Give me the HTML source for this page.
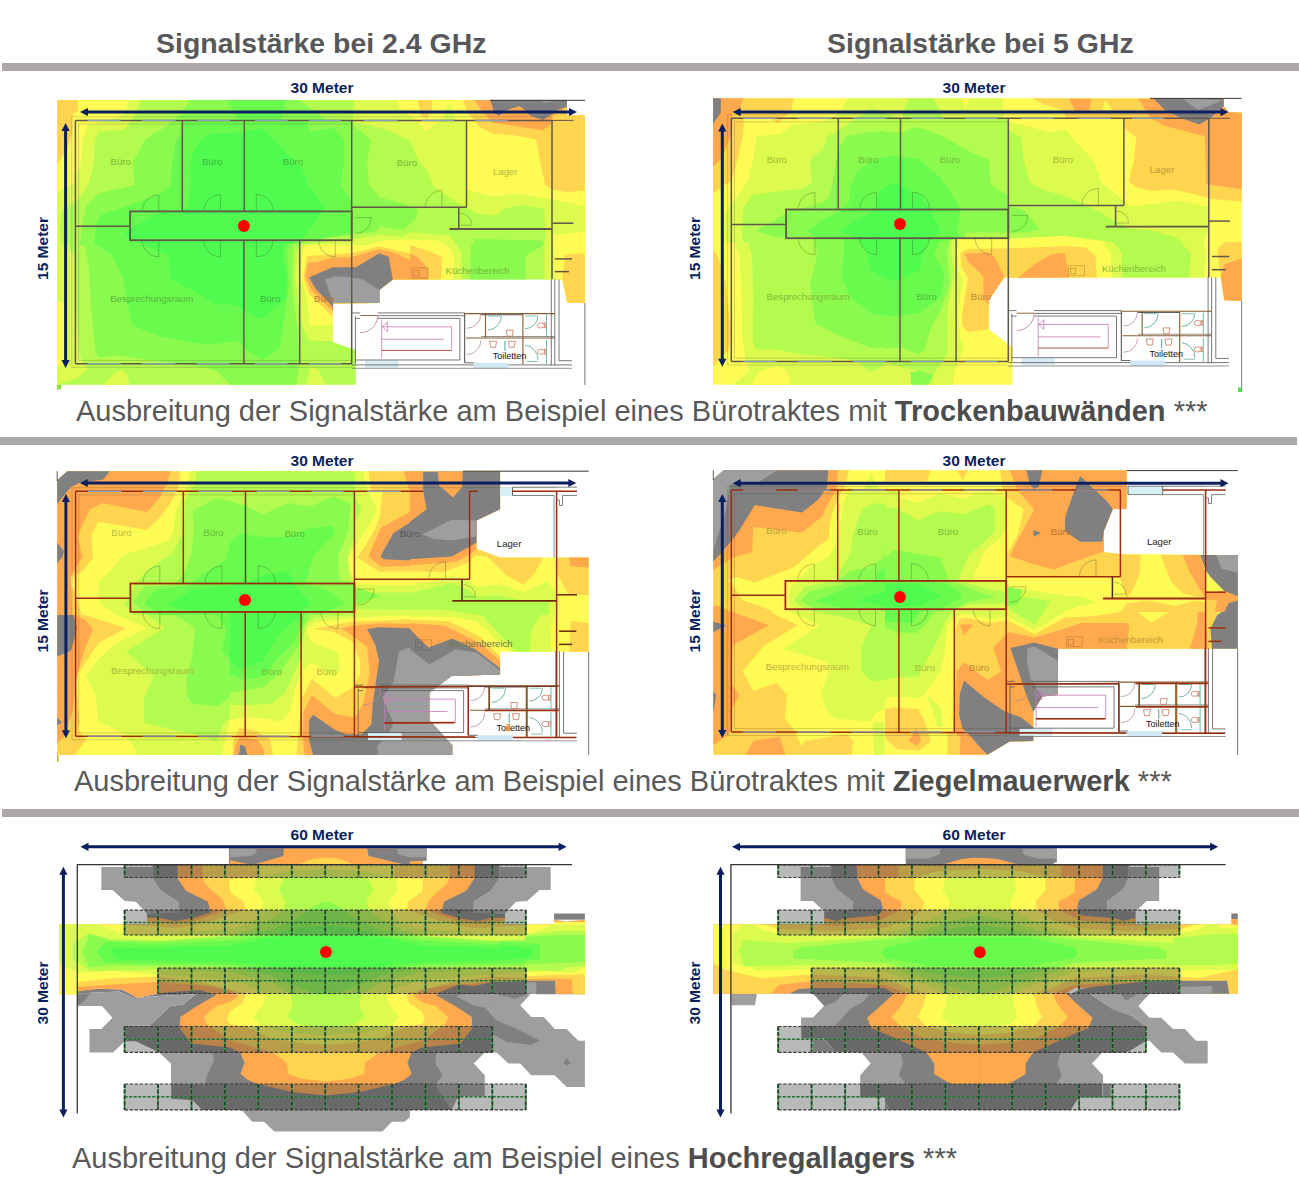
<!DOCTYPE html>
<html><head><meta charset="utf-8"><title>Signalstaerke</title>
<style>
html,body{margin:0;padding:0;background:#fff;}
body{width:1299px;height:1193px;position:relative;overflow:hidden;font-family:"Liberation Sans",sans-serif;}
.bar{position:absolute;height:8px;background:#ada9a9;}
.h{position:absolute;top:25.8px;font-size:28px;font-weight:bold;color:#58585a;white-space:nowrap;line-height:36px;transform-origin:0 0;transform:scaleX(1.016);}
.cap{position:absolute;font-size:29px;color:#595959;white-space:nowrap;line-height:34px;}
.cap b{color:#4d4d4d}
svg{position:absolute;left:0;top:0;}
svg text{font-family:"Liberation Sans",sans-serif;}
</style></head><body>
<div class="h" style="left:156px">Signalstärke bei 2.4 GHz</div>
<div class="h" style="left:827px">Signalstärke bei 5 GHz</div>
<div class="bar" style="left:2px;top:63px;width:1297px"></div>
<div class="bar" style="left:0;top:437px;width:1297px"></div>
<div class="bar" style="left:2px;top:809px;width:1297px"></div>
<div class="cap" style="left:76px;top:394px">Ausbreitung der Signalstärke am Beispiel eines Bürotraktes mit <b>Trockenbauwänden</b> ***</div>
<div class="cap" style="left:74px;top:764px">Ausbreitung der Signalstärke am Beispiel eines Bürotraktes mit <b>Ziegelmauerwerk</b> ***</div>
<div class="cap" style="left:72px;top:1141px">Ausbreitung der Signalstärke am Beispiel eines <b>Hochregallagers</b> ***</div>
<svg width="1299" height="1193" viewBox="0 0 1299 1193">
<polygon fill="#b3fb4e" points="57.2,100 567,100 567,115 585,115 585,303 567.3,303 562.4,279.5 392.8,279.5 379.4,290 379.4,303 332.8,303.5 332.8,342 355.8,350.3 355.8,384.7 57.2,384.7" />
<polygon fill="#dcfb4e" points="57.2,100.1 140.1,100.1 138.7,108.9 124.8,129.6 98.5,131.7 95.0,140.7 94.3,161.5 88.8,183.7 77.7,200.3 61.8,210.0 60.4,226.6 61.1,244.9 68.0,245.0 74.2,256.1 75.6,300.4 79.8,355.8 86.7,369.7 77.7,378.0 61.1,383.6 57.2,384.7" />
<polygon fill="#fffb55" points="57.2,100.1 128.3,100.1 126.9,110.2 119.3,117.2 88.1,124.8 83.3,136.6 81.2,161.5 72.9,183.7 57.2,192.0" />
<polygon fill="#fffb55" points="57.2,300.4 63.9,303.2 65.0,362.8 57.2,366.9" />
<polygon fill="#ffd44e" points="57.2,100.1 77.7,100.1 77.7,112.3 72.9,113.0 72.2,133.8 66.6,150.4 57.2,164.3" />
<polygon fill="#dcfb4e" points="354.7,100.1 352.6,122.0 368.6,124.8 389.3,131.0 410.0,140.7 418.3,160.1 428.0,172.6 433.6,186.5 455.7,201.7 466.1,207.0 476.5,213.5 495.9,215.5 505.6,208.6 520.8,205.2 544.4,208.6 545.1,228.7 545.1,244.9 544.4,245.0 544.4,279.4 562.4,279.6 567.3,302.9 584.9,302.9 584.9,115.1 567.0,115.1 567.0,100.1" />
<polygon fill="#fffb55" points="396.3,100.1 400.4,108.9 410.0,115.8 416.9,121.0 426.6,131.0 437.7,121.0 466.1,121.0 467.1,189.2 493.1,196.2 520.8,194.1 543.0,197.5 552.7,199.6 584.9,205.8 584.9,115.1 567.0,115.1 567.0,100.1" />
<polygon fill="#dcfb4e" points="441.9,119.9 449.5,101.9 455.7,119.9" />
<polygon fill="#fffb55" points="553.4,244.9 554.1,234.9 568.0,233.6 584.9,230.8 584.9,302.9 567.3,302.9 562.4,279.6 554.8,279.6 554.1,245.0" />
<polygon fill="#ffd44e" points="462.7,100.1 468.2,113.0 479.3,126.9 493.1,133.8 513.9,135.2 536.1,139.3 540.2,161.5 545.1,185.1 552.7,189.2 566.6,192.0 584.9,190.6 584.9,115.1 567.0,115.1 567.0,100.1" />
<polygon fill="#ffd44e" points="417.6,100.1 432.2,100.1 432.2,108.9 426.6,118.6 421.1,115.8" />
<polygon fill="#ffd44e" points="565.2,254.7 584.9,253.3 584.9,302.9 567.3,302.9 562.4,279.6" />
<polygon fill="#ffa84e" points="475.1,100.1 482.1,111.6 493.1,122.7 507.0,124.8 543.0,130.3 552.7,122.7 552.7,115.8 567.0,107.5 567.0,100.1" />
<polygon fill="#808080" points="490.4,100.5 494.5,113.0 498.7,115.8 507.0,110.2 519.5,106.1 525.0,110.2 530.5,115.8 543.0,119.9 549.9,115.8 556.9,110.2 567.0,106.8 567.0,100.5" />
<polygon fill="#9e9e9e" points="540.2,100.5 544.4,102.6 549.9,101.9 552.7,100.5" />
<polygon fill="#dcfb4e" points="102.7,384.7 113.7,373.9 122.1,369.7 127.6,375.2 129.7,384.7" />
<polygon fill="#dcfb4e" points="234.2,384.7 238.3,372.5 242.5,384.7" />
<polygon fill="#dcfb4e" points="306.2,384.7 310.4,366.9 318.7,369.7 325.6,384.7" />
<polygon fill="#8afb4e" points="189.9,100.1 180.2,114.4 165.0,126.9 145.6,139.3 133.1,161.5 134.5,185.1 98.5,193.4 86.0,205.8 81.9,226.6 79.8,244.9 84.6,245.0 88.8,265.8 91.6,314.3 95.7,353.1 98.5,357.2 119.3,355.8 202.4,366.9 216.3,370.4 230.0,384.7 296.5,384.7 299.3,363.7 297.9,335.1 292.4,286.6 293.0,245.0 313.1,239.8 351.7,234.9 352.6,233.6 375.5,232.2 381.0,226.6 403.2,230.1 410.0,223.9 415.5,219.7 418.3,210.0 410.0,205.8 396.3,201.7 379.6,197.5 368.6,183.7 367.2,161.5 370.6,139.3 352.6,124.8 352.6,120.6 327.0,120.6 299.3,100.1" />
<polygon fill="#8afb4e" points="472.4,244.9 475.1,239.1 543.0,240.5 543.7,244.9 525.7,256.1 525.7,279.4 470.3,279.4 471.0,245.0" />
<polygon fill="#68fb4e" points="94.3,244.9 95.7,226.6 99.9,215.5 127.6,205.8 158.1,194.8 170.5,186.5 171.9,164.3 176.1,139.3 183.0,132.4 183.0,120.6 307.6,120.6 309.7,132.4 332.5,127.6 344.3,139.3 344.3,161.5 340.2,185.1 351.2,198.9 351.7,233.6 313.1,239.8 286.8,245.0 288.9,286.6 282.7,328.1 279.2,348.9 262.6,360.0 243.9,347.5 238.3,340.6 230.0,342.0 209.3,344.8 188.6,342.0 160.8,336.5 131.8,325.4 123.4,278.3 112.4,256.1 97.1,245.0" />
<polygon fill="#50fb50" points="230.0,133.1 214.9,133.1 202.4,138.0 192.7,153.2 189.9,167.1 191.3,183.7 187.2,205.8 183.0,211.4 158.1,212.8 147.0,219.7 130.4,228.0 124.8,232.9 130.4,239.8 145.6,245.0 169.2,256.1 170.5,278.3 195.5,292.1 216.3,304.6 230.0,304.6 238.3,305.3 243.9,310.1 246.6,311.5 262.6,319.1 286.1,297.7 286.8,272.7 282.7,256.1 284.0,245.0 302.1,239.8 321.5,212.1 325.6,210.0 307.6,183.7 302.1,168.4 285.4,151.8 262.6,128.3 245.0,132.4" />
<polygon fill="#68fb4e" points="228,100 286,100 281,120.4 238,120.4" />
<polygon fill="#dcfb4e" points="332.8,341.3 309.0,340.6 302.1,325.4 295.1,279.6 296.5,253.3 299.3,245.0 352.6,239.1 379.6,234.9 403.2,236.3 410.0,232.2 423.9,233.6 448.8,234.9 457.1,244.9 461.3,251.9 462.0,279.4 392.8,279.6 379.4,290.0 379.4,302.9 332.8,303.5" />
<polygon fill="#fffb55" points="332.8,324.7 309.7,324.7 307.6,300.4 300.7,276.9 302.1,253.3 304.8,245.0 368.6,244.9 382.4,240.5 410.0,239.8 410.0,239.8 437.7,240.5 446.0,244.9 451.6,250.5 454.3,257.5 454.3,279.4 392.8,279.6 379.4,290.0 379.4,302.9 332.8,303.5" />
<polygon fill="#ffd44e" points="332.8,317.1 309.0,293.5 303.4,276.9 306.9,256.1 350.5,253.3 379.6,246.4 410.0,253.3 410.0,245.0 430.8,251.9 442.1,256.9 440.8,279.4 392.8,279.6 379.4,290.0 379.4,302.9 332.8,303.5" />
<polygon fill="#ffa84e" points="332.8,311.5 311.8,290.7 305.5,276.9 307.6,263.0 320.1,261.6 332.5,257.5 350.5,257.5 368.6,251.9 379.6,249.2 396.3,253.3 410.0,260.2 410.0,253.3 418.3,257.5 428.0,268.6 428.0,279.4 392.8,279.6 379.4,290.0 379.4,302.9 332.8,303.5" />
<polygon fill="#808080" points="309.0,277.6 332.5,267.2 356.1,267.2 379.0,253.3 388.7,256.8 392.8,279.6 379.4,290.0 379.4,302.9 333.2,302.9 333.2,307.4 327.0,300.4 315.9,289.3" />
<polygon fill="#9e9e9e" points="324.9,279.6 335.3,276.2 351.9,277.6 363.0,279.6 379.4,290.0 379.4,302.9 333.2,302.9" />
<line x1="490.0" y1="100.3" x2="585.0" y2="100.3" stroke="#222" stroke-width="0.90"/>
<line x1="584.9" y1="303.0" x2="584.9" y2="385.0" stroke="#555" stroke-width="0.80"/>
<rect x="473.7" y="362.8" width="34.7" height="5.8" fill="#cfe8f3"/>
<rect x="365.1" y="360.5" width="33.3" height="7.1" fill="#d6ecf5"/>
<line x1="352.0" y1="312.9" x2="360.2" y2="312.9" stroke="#555" stroke-width="0.80"/>
<line x1="377.6" y1="312.9" x2="464.7" y2="312.9" stroke="#555" stroke-width="0.80"/>
<line x1="377.6" y1="315.7" x2="464.7" y2="315.7" stroke="#555" stroke-width="0.80"/>
<line x1="360.2" y1="315.5" x2="377.6" y2="315.5" stroke="#8a5a2a" stroke-width="0.90"/>
<line x1="464.7" y1="312.9" x2="464.7" y2="362.8" stroke="#444" stroke-width="1.00"/>
<line x1="355.4" y1="318.4" x2="360.2" y2="318.4" stroke="#555" stroke-width="0.80"/>
<line x1="377.6" y1="318.4" x2="459.9" y2="318.4" stroke="#555" stroke-width="0.80"/>
<line x1="459.9" y1="318.4" x2="459.9" y2="360.0" stroke="#555" stroke-width="0.80"/>
<line x1="355.4" y1="360.0" x2="459.9" y2="360.0" stroke="#555" stroke-width="0.80"/>
<line x1="355.4" y1="316.0" x2="355.4" y2="363.7" stroke="#555" stroke-width="0.80"/>
<line x1="381.7" y1="319.8" x2="381.7" y2="358.6" stroke="#c77ab8" stroke-width="0.80"/>
<line x1="381.7" y1="326.8" x2="451.6" y2="326.8" stroke="#c77ab8" stroke-width="0.80"/>
<line x1="451.6" y1="326.8" x2="451.6" y2="350.3" stroke="#c77ab8" stroke-width="0.80"/>
<line x1="381.7" y1="339.2" x2="443.9" y2="339.2" stroke="#c77ab8" stroke-width="0.80"/>
<line x1="381.7" y1="350.4" x2="451.6" y2="350.4" stroke="#b0503a" stroke-width="1.00"/>
<polygon points="387.3,321.9 387.3,331.6 382.4,326.8" fill="none" stroke="#c77ab8" stroke-width="0.8"/>
<path d="M377.6 315.7 A17.0 17.0 0 0 1 360.2 332.7" fill="none" stroke="#b08090" stroke-width="0.80"/>
<line x1="464.7" y1="313.6" x2="554.8" y2="313.6" stroke="#8a5a2a" stroke-width="1.10"/>
<line x1="466.0" y1="338.0" x2="554.8" y2="338.0" stroke="#8a5a2a" stroke-width="1.10"/>
<line x1="485.5" y1="313.6" x2="485.5" y2="338.0" stroke="#8a5a2a" stroke-width="1.10"/>
<line x1="522.9" y1="313.6" x2="522.9" y2="364.2" stroke="#8a5a2a" stroke-width="1.10"/>
<line x1="481.0" y1="314.8" x2="522.9" y2="314.8" stroke="#333" stroke-width="0.80"/>
<line x1="481.0" y1="336.5" x2="554.8" y2="336.5" stroke="#666" stroke-width="0.70"/>
<line x1="551.3" y1="279.4" x2="551.3" y2="365.5" stroke="#555" stroke-width="0.80"/>
<line x1="554.8" y1="279.4" x2="554.8" y2="365.5" stroke="#555" stroke-width="0.80"/>
<line x1="559.0" y1="279.6" x2="559.0" y2="360.7" stroke="#555" stroke-width="0.80"/>
<line x1="559.0" y1="360.7" x2="572.1" y2="360.7" stroke="#555" stroke-width="0.80"/>
<line x1="352.0" y1="364.9" x2="473.7" y2="364.9" stroke="#555" stroke-width="0.80"/>
<line x1="508.4" y1="364.9" x2="572.1" y2="364.9" stroke="#555" stroke-width="0.80"/>
<line x1="352.0" y1="368.3" x2="572.1" y2="368.3" stroke="#777" stroke-width="0.80"/>
<line x1="464.7" y1="362.8" x2="473.7" y2="362.8" stroke="#444" stroke-width="0.80"/>
<path d="M501.5 315.7 A14.5 14.5 0 0 1 487.6 330.2" fill="none" stroke="#4aa39a" stroke-width="0.80"/>
<path d="M538.0 315.7 A13.0 13.0 0 0 1 525.0 328.7" fill="none" stroke="#4aa39a" stroke-width="0.80"/>
<path d="M525.0 345.0 A15.0 15.0 0 0 1 538.0 360.0" fill="none" stroke="#4aa39a" stroke-width="0.80"/>
<path d="M480.8 314.3 A14.0 14.0 0 0 1 466.8 328.3" fill="none" stroke="#b88aa0" stroke-width="0.80"/>
<path d="M480.8 340.6 A14.0 14.0 0 0 1 466.8 354.6" fill="none" stroke="#b88aa0" stroke-width="0.80"/>
<line x1="546.5" y1="315.0" x2="546.5" y2="337.0" stroke="#4aa39a" stroke-width="0.80"/>
<line x1="546.5" y1="340.0" x2="546.5" y2="364.0" stroke="#4aa39a" stroke-width="0.80"/>
<line x1="505.0" y1="341.0" x2="505.0" y2="351.0" stroke="#4aa39a" stroke-width="1.00"/>
<line x1="527.0" y1="361.5" x2="538.0" y2="361.5" stroke="#4aa39a" stroke-width="0.70"/>
<line x1="487.6" y1="316.0" x2="500.0" y2="316.0" stroke="#4aa39a" stroke-width="0.70"/>
<line x1="525.0" y1="316.0" x2="537.0" y2="316.0" stroke="#4aa39a" stroke-width="0.70"/>
<ellipse cx="540.9" cy="325.4" rx="3.6" ry="2.6" fill="none" stroke="#c9785a" stroke-width="0.8"/>
<rect x="544.3" y="322.9" width="1.6" height="5" fill="none" stroke="#c9785a" stroke-width="0.6"/>
<ellipse cx="540.9" cy="351.7" rx="3.6" ry="2.6" fill="none" stroke="#c9785a" stroke-width="0.8"/>
<rect x="544.3" y="349.2" width="1.6" height="5" fill="none" stroke="#c9785a" stroke-width="0.6"/>
<path d="M506.3 330.2 h7 l-1 6 h-5 z" fill="none" stroke="#c9785a" stroke-width="0.8"/>
<path d="M489.6 341.3 h7 l-1 6 h-5 z" fill="none" stroke="#c9785a" stroke-width="0.8"/>
<path d="M508.3 341.3 h7 l-1 6 h-5 z" fill="none" stroke="#c9785a" stroke-width="0.8"/>
<rect x="412.0" y="268.0" width="16.0" height="10.0" fill="none" stroke="rgba(80,60,30,0.35)" stroke-width="0.7"/>
<rect x="414.0" y="270.5" width="5" height="5.5" fill="none" stroke="rgba(80,60,30,0.4)" stroke-width="0.7"/>
<path d="M158.8 211.4 L158.8 194.8 A16.6 16.6 0 0 0 142.2 211.4" fill="none" stroke="rgba(40,70,30,0.38)" stroke-width="0.8"/>
<path d="M220.4 211.4 L220.4 194.8 A16.6 16.6 0 0 0 203.8 211.4" fill="none" stroke="rgba(40,70,30,0.38)" stroke-width="0.8"/>
<path d="M256.3 211.4 L256.3 194.4 A17.0 17.0 0 0 1 273.3 211.4" fill="none" stroke="rgba(40,70,30,0.38)" stroke-width="0.8"/>
<path d="M158.8 240.2 L158.8 256.8 A16.6 16.6 0 0 1 142.2 240.2" fill="none" stroke="rgba(40,70,30,0.38)" stroke-width="0.8"/>
<path d="M220.4 240.2 L220.4 256.8 A16.6 16.6 0 0 1 203.8 240.2" fill="none" stroke="rgba(40,70,30,0.38)" stroke-width="0.8"/>
<path d="M256.3 240.2 L256.3 256.8 A16.6 16.6 0 0 0 272.9 240.2" fill="none" stroke="rgba(40,70,30,0.38)" stroke-width="0.8"/>
<path d="M335.3 240.2 L335.3 256.8 A16.6 16.6 0 0 1 318.7 240.2" fill="none" stroke="rgba(40,70,30,0.38)" stroke-width="0.8"/>
<path d="M441.9 207.2 L441.9 190.6 A16.6 16.6 0 0 0 425.3 207.2" fill="none" stroke="rgba(40,70,30,0.38)" stroke-width="0.8"/>
<path d="M355.4 217.6 L371.4 217.6 A16.0 16.0 0 0 1 355.4 233.6" fill="none" stroke="rgba(40,70,30,0.38)" stroke-width="0.8"/>
<path d="M459.9 213.2 A12.0 12.0 0 0 1 471.9 225.2 L459.9 225.2" fill="none" stroke="rgba(40,70,30,0.38)" stroke-width="0.8"/>
<line x1="71.8" y1="116.8" x2="552.0" y2="116.8" stroke="rgba(60,60,30,0.30)" stroke-width="0.7"/>
<line x1="71.8" y1="116.8" x2="71.8" y2="367.3" stroke="rgba(60,60,30,0.30)" stroke-width="0.7"/>
<line x1="78.6" y1="124.0" x2="78.6" y2="360.4" stroke="rgba(60,60,30,0.30)" stroke-width="0.7"/>
<line x1="78.6" y1="124.0" x2="351.0" y2="124.0" stroke="rgba(60,60,30,0.30)" stroke-width="0.7"/>
<line x1="71.8" y1="367.3" x2="352.0" y2="367.3" stroke="rgba(60,60,30,0.30)" stroke-width="0.7"/>
<line x1="78.6" y1="360.4" x2="351.0" y2="360.4" stroke="rgba(60,60,30,0.30)" stroke-width="0.7"/>
<line x1="75.4" y1="120.4" x2="552.0" y2="120.4" stroke="#62554b" stroke-width="1.50"/>
<line x1="552.0" y1="120.4" x2="573.5" y2="120.4" stroke="#62554b" stroke-width="1.00"/>
<line x1="75.4" y1="120.4" x2="75.4" y2="363.7" stroke="#62554b" stroke-width="1.50"/>
<line x1="75.4" y1="363.7" x2="352.0" y2="363.7" stroke="#62554b" stroke-width="1.50"/>
<line x1="182.3" y1="120.4" x2="182.3" y2="211.4" stroke="#62554b" stroke-width="1.50"/>
<line x1="244.3" y1="120.4" x2="244.3" y2="211.4" stroke="#62554b" stroke-width="1.50"/>
<line x1="351.7" y1="120.4" x2="351.7" y2="363.7" stroke="#62554b" stroke-width="1.50"/>
<rect x="130.1" y="211.4" width="221.6" height="28.8" fill="none" stroke="#62554b" stroke-width="1.8"/>
<line x1="75.4" y1="226.3" x2="130.0" y2="226.3" stroke="#62554b" stroke-width="1.50"/>
<line x1="243.9" y1="240.2" x2="243.9" y2="363.7" stroke="#62554b" stroke-width="1.50"/>
<line x1="299.7" y1="240.2" x2="299.7" y2="363.7" stroke="#62554b" stroke-width="1.50"/>
<line x1="351.7" y1="207.2" x2="466.5" y2="207.2" stroke="#62554b" stroke-width="1.50"/>
<line x1="466.5" y1="120.4" x2="466.5" y2="207.2" stroke="#62554b" stroke-width="1.50"/>
<line x1="552.0" y1="120.4" x2="552.0" y2="279.0" stroke="#62554b" stroke-width="1.50"/>
<line x1="458.8" y1="207.2" x2="458.8" y2="229.0" stroke="#62554b" stroke-width="1.50"/>
<line x1="449.5" y1="229.0" x2="552.0" y2="229.0" stroke="#62554b" stroke-width="1.80"/>
<line x1="552.7" y1="223.2" x2="573.5" y2="223.2" stroke="#62554b" stroke-width="1.50"/>
<line x1="554.8" y1="258.9" x2="572.0" y2="258.9" stroke="#62554b" stroke-width="1.50"/>
<line x1="554.8" y1="271.6" x2="569.0" y2="271.6" stroke="#62554b" stroke-width="1.50"/>
<line x1="87.4" y1="120.4" x2="120.7" y2="120.4" stroke="#86a3b8" stroke-width="1.2"/>
<line x1="142.1" y1="120.4" x2="175.4" y2="120.4" stroke="#86a3b8" stroke-width="1.2"/>
<line x1="196.9" y1="120.4" x2="230.2" y2="120.4" stroke="#86a3b8" stroke-width="1.2"/>
<line x1="254.9" y1="120.4" x2="287.5" y2="120.4" stroke="#86a3b8" stroke-width="1.2"/>
<line x1="309.0" y1="120.4" x2="340.9" y2="120.4" stroke="#86a3b8" stroke-width="1.2"/>
<line x1="364.4" y1="120.4" x2="397.7" y2="120.4" stroke="#86a3b8" stroke-width="1.2"/>
<line x1="421.8" y1="120.4" x2="454.3" y2="120.4" stroke="#86a3b8" stroke-width="1.2"/>
<line x1="475.1" y1="120.4" x2="507.7" y2="120.4" stroke="#86a3b8" stroke-width="1.2"/>
<line x1="87.4" y1="363.7" x2="120.7" y2="363.7" stroke="#86a3b8" stroke-width="1.2"/>
<line x1="142.1" y1="363.7" x2="175.4" y2="363.7" stroke="#86a3b8" stroke-width="1.2"/>
<line x1="196.9" y1="363.7" x2="230.2" y2="363.7" stroke="#86a3b8" stroke-width="1.2"/>
<line x1="254.9" y1="363.7" x2="287.5" y2="363.7" stroke="#86a3b8" stroke-width="1.2"/>
<line x1="309.0" y1="363.7" x2="340.9" y2="363.7" stroke="#86a3b8" stroke-width="1.2"/>
<text x="120.7" y="164.7" font-size="9.6" fill="#81b538" text-anchor="middle" font-weight="normal" >Büro</text>
<text x="212.1" y="164.7" font-size="9.6" fill="#3ab53a" text-anchor="middle" font-weight="normal" >Büro</text>
<text x="293.0" y="165.4" font-size="9.6" fill="#42b53a" text-anchor="middle" font-weight="normal" >Büro</text>
<text x="406.9" y="165.6" font-size="9.6" fill="#81b538" text-anchor="middle" font-weight="normal" >Büro</text>
<text x="505.3" y="175.1" font-size="9.6" fill="#b8b53d" text-anchor="middle" font-weight="normal" >Lager</text>
<text x="477.5" y="274.2" font-size="9.6" fill="#78b538" text-anchor="middle" font-weight="normal" >Küchenbereich</text>
<text x="151.8" y="302.0" font-size="9.6" fill="#5ab538" text-anchor="middle" font-weight="normal" >Besprechungsraum</text>
<text x="270.2" y="302.0" font-size="9.6" fill="#3ab53a" text-anchor="middle" font-weight="normal" >Büro</text>
<text x="324.2" y="302.2" font-size="9.6" fill="#b87938" text-anchor="middle" font-weight="normal" >Büro</text>
<text x="509.5" y="359.0" font-size="9.0" fill="#111" text-anchor="middle" font-weight="normal" >Toiletten</text>
<circle cx="243.9" cy="226" r="6" fill="#ff0000"/>
<polygon fill="#fffb55" points="713,98.2 1223.7,98.2 1223.7,105.9 1228.5,112.1 1241.7,112.8 1241.7,300.9 1224.3,300.2 1220.2,277.6 1004.2,277.7 988.9,300.2 988.9,329.3 1012.5,347.3 1012.5,384.7 713,384.7" />
<polygon fill="#dcfb4e" points="849.1,98.2 838.0,114.2 829.7,118.3 822.8,121.8 793.7,124.6 779.8,133.6 756.3,136.3 753.5,158.5 748.0,180.7 732.7,202.8 725.8,211.2 724.4,230.6 725.8,241.9 734.1,242.0 739.6,255.9 741.7,297.4 742.4,339.0 745.2,357.0 749.3,370.9 732.7,384.7 952.9,384.7 954.3,372.2 964.0,347.3 959.8,337.6 958.4,311.3 962.6,280.8 958.4,269.7 957.1,250.3 959.8,242.0 957.1,238.9 1008.0,238.6 1065.0,236.1 1085.8,238.9 1106.6,241.9 1103.8,244.8 1110.7,253.1 1112.1,277.6 1203.6,277.6 1206.3,255.9 1203.6,242.0 1207.7,230.6 1207.7,207.0 1177.2,200.8 1150.9,204.2 1131.5,206.3 1124.6,201.5 1123.2,200.1 1101.0,182.1 1094.1,161.3 1078.9,144.7 1065.0,129.4 1048.5,132.2 1034.6,128.0 1009.0,121.8 1002.8,117.6 1002.8,98.2" />
<polygon fill="#fffb55" points="750.7,384.7 760.4,370.9 777.1,366.0 786.8,370.9 790.9,384.7" />
<polygon fill="#fffb55" points="961.2,98.2 965.4,108.6 969.5,98.2" />
<polygon fill="#b3fb4e" points="871.3,108.6 854.6,119.7 836.6,132.2 826.9,136.3 824.2,147.4 810.3,159.9 811.7,183.5 802.0,189.0 753.5,194.5 743.8,207.0 741.7,230.6 743.1,241.9 748.0,242.0 752.1,255.9 753.5,297.4 752.8,339.0 754.9,348.7 777.1,350.1 802.0,354.2 829.7,357.0 857.4,361.2 871.3,372.2 885.0,363.9 885.0,362.5 933.5,375.0 947.4,352.8 947.4,311.3 954.3,269.7 951.5,255.9 951.5,242.0 951.5,238.6 1008.0,238.3 1065.0,235.8 1078.9,237.5 1113.5,241.9 1113.5,242.0 1121.8,253.1 1121.8,277.6 1189.0,277.6 1191.1,254.5 1181.4,242.0 1175.8,237.5 1150.9,230.6 1131.5,228.5 1116.3,222.2 1099.6,211.2 1092.7,208.4 1081.6,202.8 1065.0,195.9 1040.2,189.0 1029.1,182.1 1023.6,158.5 1020.8,137.0 1009.0,130.8 1009.0,119.0 943.2,118.3 933.5,98.2 908.6,98.2 901.6,118.3 885.0,112.8" />
<polygon fill="#8afb4e" points="911.3,384.7 910.6,372.2 919.6,370.9 933.5,375.0 929.3,384.7" />
<polygon fill="#8afb4e" points="885.0,130.8 868.5,132.2 846.3,136.3 838.0,150.2 835.2,169.6 829.7,195.9 824.2,201.5 807.5,207.0 788.1,211.2 771.5,222.2 756.3,230.6 771.5,236.1 786.1,238.2 814.5,238.9 814.5,242.0 817.2,254.5 810.3,283.6 813.1,311.3 815.8,323.8 836.6,334.8 871.3,348.0 885.0,347.3 885.0,348.7 900.0,347.3 918.3,354.2 925.2,348.7 930.7,327.9 940.4,311.3 950.1,283.6 946.7,253.1 950.1,242.0 950.1,238.2 965.4,238.2 965.4,232.6 1008.0,232.6 1009.0,233.3 1029.1,231.9 1039.5,229.2 1023.6,209.8 1009.0,206.3 1008.0,195.9 990.3,183.5 988.9,159.9 966.8,150.2 943.2,136.3 918.3,127.3 901.4,132.2 885.0,132.2" />
<polygon fill="#68fb4e" points="885.0,156.4 871.3,161.3 857.4,171.0 850.5,186.2 849.1,202.8 838.0,212.5 822.8,219.5 807.5,230.6 815.8,237.5 843.6,238.9 843.6,242.0 843.6,255.9 842.2,278.0 850.5,297.4 872.7,314.1 885.0,315.4 885.0,315.4 893.3,316.1 918.3,313.4 940.4,297.4 944.6,278.0 941.8,266.9 934.2,254.5 939.0,242.0 959.8,238.2 957.1,230.6 959.8,216.7 961.2,209.1 951.5,194.5 940.4,177.9 918.3,158.5 901.4,156.4 885.0,156.4" />
<polygon fill="#50fb50" points="885.0,187.6 876.8,194.5 876.8,209.8 857.4,219.5 840.1,230.6 857.4,238.9 861.6,242.0 867.1,254.5 871.3,269.7 885.0,278.0 885.0,278.0 895.4,281.5 900.0,279.4 919.6,269.7 921.7,255.9 929.3,242.0 933.5,238.2 940.4,230.6 932.8,216.7 929.3,207.0 918.3,193.2 901.4,186.2 895.4,182.8 885.0,187.6" />
<polygon fill="#ffd44e" points="713.0,98.2 793.7,98.2 791.6,110.0 778.4,123.2 770.1,118.3 743.8,119.0 743.1,133.6 738.3,157.1 731.3,180.7 713.0,193.2" />
<polygon fill="#ffa84e" points="713.0,98.2 743.1,98.2 739.6,110.0 732.7,112.1 732.0,130.8 727.2,144.7 721.6,158.5 713.0,166.8" />
<polygon fill="#808080" points="713.0,98.2 720.9,98.2 720.9,112.8 713.0,123.9" />
<polygon fill="#ffd44e" points="713.0,248.9 718.9,258.6 725.8,283.6 730.6,332.1 728.6,350.1 713.0,366.7" />
<polygon fill="#ffd44e" points="1031.9,98.2 1044.3,104.5 1065.0,110.7 1065.0,118.3 1123.9,118.3 1124.6,128.0 1136.4,137.7 1134.3,158.5 1128.7,182.1 1137.1,187.6 1150.9,191.1 1175.8,189.7 1206.3,197.3 1209.1,198.7 1241.7,201.5 1241.7,112.8 1228.5,112.1 1223.7,105.9 1223.7,98.7" />
<polygon fill="#fffb55" points="1105.2,100.3 1102.4,110.0 1112.1,110.0" />
<polygon fill="#ffa84e" points="1138.4,98.7 1150.9,118.3 1164.8,125.9 1184.2,130.8 1204.9,136.3 1206.3,183.5 1209.1,184.8 1241.7,189.0 1241.7,112.8 1228.5,112.1 1223.7,105.9 1223.7,98.7" />
<polygon fill="#ffa84e" points="1069.2,98.7 1091.3,98.7 1088.6,112.8 1083.0,110.0 1076.1,112.8" />
<polygon fill="#808080" points="1153.7,98.7 1223.7,98.7 1223.7,105.9 1211.9,116.9 1199.4,124.6 1181.4,118.3 1164.8,110.0" />
<polygon fill="#9e9e9e" points="1182.8,98.7 1223.0,100.3 1198.0,110.0" />
<polygon fill="#ffd44e" points="1217.4,248.9 1225.7,242.0 1241.7,242.0 1241.7,300.9 1224.3,300.2 1220.9,277.6 1218.8,262.8" />
<polygon fill="#ffa84e" points="1224.3,264.2 1241.7,258.6 1241.7,300.9 1224.3,300.2 1220.9,277.6" />
<polygon fill="#ffd44e" points="988.9,329.3 968.1,332.1 961.9,325.1 962.6,311.3 968.1,278.0 961.2,266.9 960.5,253.1 968.1,248.9 1009.7,248.2 1065.0,246.2 1065.0,246.2 1085.8,247.5 1095.5,255.9 1096.9,277.6 1004.2,277.7 988.9,300.2" />
<polygon fill="#ffa84e" points="964.7,253.8 987.5,252.4 994.5,257.2 1004.2,276.6 988.9,300.2 988.9,304.4 983.4,300.2 983.4,276.6 968.1,261.4" />
<polygon fill="#ffa84e" points="1018.0,277.7 1034.6,264.2 1051.3,254.5 1065.0,253.1 1065.0,253.1 1069.2,277.6" />
<line x1="1150.0" y1="98.4" x2="1241.7" y2="98.4" stroke="#222" stroke-width="0.90"/>
<line x1="1241.7" y1="300.9" x2="1241.7" y2="392.0" stroke="#555" stroke-width="0.80"/>
<rect x="1130.4" y="360.5" width="34.8" height="5.8" fill="#cfe8f3"/>
<rect x="1021.6" y="358.2" width="33.4" height="7.1" fill="#d6ecf5"/>
<line x1="1008.4" y1="310.6" x2="1016.6" y2="310.6" stroke="#555" stroke-width="0.80"/>
<line x1="1034.1" y1="310.6" x2="1121.3" y2="310.6" stroke="#555" stroke-width="0.80"/>
<line x1="1034.1" y1="313.4" x2="1121.3" y2="313.4" stroke="#555" stroke-width="0.80"/>
<line x1="1016.6" y1="313.2" x2="1034.1" y2="313.2" stroke="#8a5a2a" stroke-width="0.90"/>
<line x1="1121.3" y1="310.6" x2="1121.3" y2="360.5" stroke="#444" stroke-width="1.00"/>
<line x1="1011.8" y1="316.1" x2="1016.6" y2="316.1" stroke="#555" stroke-width="0.80"/>
<line x1="1034.1" y1="316.1" x2="1116.5" y2="316.1" stroke="#555" stroke-width="0.80"/>
<line x1="1116.5" y1="316.1" x2="1116.5" y2="357.7" stroke="#555" stroke-width="0.80"/>
<line x1="1011.8" y1="357.7" x2="1116.5" y2="357.7" stroke="#555" stroke-width="0.80"/>
<line x1="1011.8" y1="313.7" x2="1011.8" y2="361.4" stroke="#555" stroke-width="0.80"/>
<line x1="1038.2" y1="317.5" x2="1038.2" y2="356.3" stroke="#c77ab8" stroke-width="0.80"/>
<line x1="1038.2" y1="324.5" x2="1108.2" y2="324.5" stroke="#c77ab8" stroke-width="0.80"/>
<line x1="1108.2" y1="324.5" x2="1108.2" y2="348.0" stroke="#c77ab8" stroke-width="0.80"/>
<line x1="1038.2" y1="336.9" x2="1100.5" y2="336.9" stroke="#c77ab8" stroke-width="0.80"/>
<line x1="1038.2" y1="348.1" x2="1108.2" y2="348.1" stroke="#b0503a" stroke-width="1.00"/>
<polygon points="1043.8,319.6 1043.8,329.3 1038.9,324.5" fill="none" stroke="#c77ab8" stroke-width="0.8"/>
<path d="M1034.1 313.4 A17.0 17.0 0 0 1 1016.6 330.4" fill="none" stroke="#b08090" stroke-width="0.80"/>
<line x1="1121.3" y1="311.3" x2="1211.6" y2="311.3" stroke="#8a5a2a" stroke-width="1.10"/>
<line x1="1122.6" y1="335.7" x2="1211.6" y2="335.7" stroke="#8a5a2a" stroke-width="1.10"/>
<line x1="1142.2" y1="311.3" x2="1142.2" y2="335.7" stroke="#8a5a2a" stroke-width="1.10"/>
<line x1="1179.7" y1="311.3" x2="1179.7" y2="361.9" stroke="#8a5a2a" stroke-width="1.10"/>
<line x1="1137.7" y1="312.5" x2="1179.7" y2="312.5" stroke="#333" stroke-width="0.80"/>
<line x1="1137.7" y1="334.2" x2="1211.6" y2="334.2" stroke="#666" stroke-width="0.70"/>
<line x1="1208.1" y1="277.2" x2="1208.1" y2="363.2" stroke="#555" stroke-width="0.80"/>
<line x1="1211.6" y1="277.2" x2="1211.6" y2="363.2" stroke="#555" stroke-width="0.80"/>
<line x1="1215.8" y1="277.4" x2="1215.8" y2="358.4" stroke="#555" stroke-width="0.80"/>
<line x1="1215.8" y1="358.4" x2="1228.9" y2="358.4" stroke="#555" stroke-width="0.80"/>
<line x1="1008.4" y1="362.6" x2="1130.4" y2="362.6" stroke="#555" stroke-width="0.80"/>
<line x1="1165.1" y1="362.6" x2="1228.9" y2="362.6" stroke="#555" stroke-width="0.80"/>
<line x1="1008.4" y1="366.0" x2="1228.9" y2="366.0" stroke="#777" stroke-width="0.80"/>
<line x1="1121.3" y1="360.5" x2="1130.4" y2="360.5" stroke="#444" stroke-width="0.80"/>
<path d="M1158.2 313.4 A14.5 14.5 0 0 1 1144.3 327.9" fill="none" stroke="#4aa39a" stroke-width="0.80"/>
<path d="M1194.8 313.4 A13.0 13.0 0 0 1 1181.8 326.4" fill="none" stroke="#4aa39a" stroke-width="0.80"/>
<path d="M1181.8 342.7 A15.0 15.0 0 0 1 1194.8 357.7" fill="none" stroke="#4aa39a" stroke-width="0.80"/>
<path d="M1137.5 312.0 A14.0 14.0 0 0 1 1123.4 326.0" fill="none" stroke="#b88aa0" stroke-width="0.80"/>
<path d="M1137.5 338.3 A14.0 14.0 0 0 1 1123.4 352.3" fill="none" stroke="#b88aa0" stroke-width="0.80"/>
<line x1="1203.3" y1="312.7" x2="1203.3" y2="334.7" stroke="#4aa39a" stroke-width="0.80"/>
<line x1="1203.3" y1="337.7" x2="1203.3" y2="361.7" stroke="#4aa39a" stroke-width="0.80"/>
<line x1="1161.7" y1="338.7" x2="1161.7" y2="348.7" stroke="#4aa39a" stroke-width="1.00"/>
<line x1="1183.8" y1="359.2" x2="1194.8" y2="359.2" stroke="#4aa39a" stroke-width="0.70"/>
<line x1="1144.3" y1="313.7" x2="1156.7" y2="313.7" stroke="#4aa39a" stroke-width="0.70"/>
<line x1="1181.8" y1="313.7" x2="1193.8" y2="313.7" stroke="#4aa39a" stroke-width="0.70"/>
<ellipse cx="1197.7" cy="323.1" rx="3.6" ry="2.6" fill="none" stroke="#c9785a" stroke-width="0.8"/>
<rect x="1201.1" y="320.6" width="1.6" height="5" fill="none" stroke="#c9785a" stroke-width="0.6"/>
<ellipse cx="1197.7" cy="349.4" rx="3.6" ry="2.6" fill="none" stroke="#c9785a" stroke-width="0.8"/>
<rect x="1201.1" y="346.9" width="1.6" height="5" fill="none" stroke="#c9785a" stroke-width="0.6"/>
<path d="M1163.0 327.9 h7 l-1 6 h-5 z" fill="none" stroke="#c9785a" stroke-width="0.8"/>
<path d="M1146.3 339.0 h7 l-1 6 h-5 z" fill="none" stroke="#c9785a" stroke-width="0.8"/>
<path d="M1165.0 339.0 h7 l-1 6 h-5 z" fill="none" stroke="#c9785a" stroke-width="0.8"/>
<rect x="1068.5" y="265.8" width="16.0" height="10.0" fill="none" stroke="rgba(80,60,30,0.35)" stroke-width="0.7"/>
<rect x="1070.5" y="268.3" width="5" height="5.5" fill="none" stroke="rgba(80,60,30,0.4)" stroke-width="0.7"/>
<path d="M814.9 209.2 L814.9 192.6 A16.6 16.6 0 0 0 798.2 209.2" fill="none" stroke="rgba(40,70,30,0.38)" stroke-width="0.8"/>
<path d="M876.6 209.2 L876.6 192.6 A16.6 16.6 0 0 0 859.9 209.2" fill="none" stroke="rgba(40,70,30,0.38)" stroke-width="0.8"/>
<path d="M912.5 209.2 L912.5 192.2 A17.0 17.0 0 0 1 929.6 209.2" fill="none" stroke="rgba(40,70,30,0.38)" stroke-width="0.8"/>
<path d="M814.9 238.0 L814.9 254.6 A16.6 16.6 0 0 1 798.2 238.0" fill="none" stroke="rgba(40,70,30,0.38)" stroke-width="0.8"/>
<path d="M876.6 238.0 L876.6 254.6 A16.6 16.6 0 0 1 859.9 238.0" fill="none" stroke="rgba(40,70,30,0.38)" stroke-width="0.8"/>
<path d="M912.5 238.0 L912.5 254.6 A16.6 16.6 0 0 0 929.2 238.0" fill="none" stroke="rgba(40,70,30,0.38)" stroke-width="0.8"/>
<path d="M991.7 238.0 L991.7 254.6 A16.6 16.6 0 0 1 975.1 238.0" fill="none" stroke="rgba(40,70,30,0.38)" stroke-width="0.8"/>
<path d="M1098.5 205.0 L1098.5 188.4 A16.6 16.6 0 0 0 1081.9 205.0" fill="none" stroke="rgba(40,70,30,0.38)" stroke-width="0.8"/>
<path d="M1011.8 215.4 L1027.9 215.4 A16.0 16.0 0 0 1 1011.8 231.4" fill="none" stroke="rgba(40,70,30,0.38)" stroke-width="0.8"/>
<path d="M1116.5 211.0 A12.0 12.0 0 0 1 1128.6 223.0 L1116.5 223.0" fill="none" stroke="rgba(40,70,30,0.38)" stroke-width="0.8"/>
<line x1="727.7" y1="114.7" x2="1208.8" y2="114.7" stroke="rgba(60,60,30,0.30)" stroke-width="0.7"/>
<line x1="727.7" y1="114.7" x2="727.7" y2="365.0" stroke="rgba(60,60,30,0.30)" stroke-width="0.7"/>
<line x1="734.5" y1="121.9" x2="734.5" y2="358.1" stroke="rgba(60,60,30,0.30)" stroke-width="0.7"/>
<line x1="734.5" y1="121.9" x2="1007.4" y2="121.9" stroke="rgba(60,60,30,0.30)" stroke-width="0.7"/>
<line x1="727.7" y1="365.0" x2="1008.4" y2="365.0" stroke="rgba(60,60,30,0.30)" stroke-width="0.7"/>
<line x1="734.5" y1="358.1" x2="1007.4" y2="358.1" stroke="rgba(60,60,30,0.30)" stroke-width="0.7"/>
<line x1="731.3" y1="118.3" x2="1208.8" y2="118.3" stroke="#62554b" stroke-width="1.50"/>
<line x1="1208.8" y1="118.3" x2="1229.9" y2="118.3" stroke="#62554b" stroke-width="1.00"/>
<line x1="731.3" y1="118.3" x2="731.3" y2="361.4" stroke="#62554b" stroke-width="1.50"/>
<line x1="731.3" y1="361.4" x2="1008.3" y2="361.4" stroke="#62554b" stroke-width="1.50"/>
<line x1="838.3" y1="118.3" x2="838.3" y2="209.5" stroke="#62554b" stroke-width="1.50"/>
<line x1="900.5" y1="118.3" x2="900.5" y2="209.5" stroke="#62554b" stroke-width="1.50"/>
<line x1="1008.3" y1="118.3" x2="1008.3" y2="361.4" stroke="#62554b" stroke-width="1.50"/>
<rect x="786.1" y="209.5" width="222.2" height="28.7" fill="none" stroke="#62554b" stroke-width="1.8"/>
<line x1="731.3" y1="224.6" x2="786.1" y2="224.6" stroke="#62554b" stroke-width="1.50"/>
<line x1="900.0" y1="238.2" x2="900.0" y2="361.4" stroke="#62554b" stroke-width="1.50"/>
<line x1="956.1" y1="238.2" x2="956.1" y2="361.4" stroke="#62554b" stroke-width="1.50"/>
<line x1="1008.3" y1="205.4" x2="1123.9" y2="205.4" stroke="#62554b" stroke-width="1.50"/>
<line x1="1123.9" y1="118.3" x2="1123.9" y2="205.4" stroke="#62554b" stroke-width="1.50"/>
<line x1="1208.8" y1="118.3" x2="1208.8" y2="277.6" stroke="#62554b" stroke-width="1.50"/>
<line x1="1115.6" y1="205.4" x2="1115.6" y2="226.7" stroke="#62554b" stroke-width="1.50"/>
<line x1="1105.9" y1="226.7" x2="1209.1" y2="226.7" stroke="#62554b" stroke-width="1.80"/>
<line x1="1209.0" y1="221.1" x2="1229.9" y2="221.1" stroke="#62554b" stroke-width="1.50"/>
<line x1="1211.9" y1="256.5" x2="1229.2" y2="256.5" stroke="#62554b" stroke-width="1.50"/>
<line x1="1211.9" y1="269.7" x2="1225.7" y2="269.7" stroke="#62554b" stroke-width="1.50"/>
<line x1="743.3" y1="118.3" x2="776.7" y2="118.3" stroke="#86a3b8" stroke-width="1.2"/>
<line x1="798.1" y1="118.3" x2="831.5" y2="118.3" stroke="#86a3b8" stroke-width="1.2"/>
<line x1="853.0" y1="118.3" x2="886.4" y2="118.3" stroke="#86a3b8" stroke-width="1.2"/>
<line x1="911.1" y1="118.3" x2="943.8" y2="118.3" stroke="#86a3b8" stroke-width="1.2"/>
<line x1="965.3" y1="118.3" x2="997.3" y2="118.3" stroke="#86a3b8" stroke-width="1.2"/>
<line x1="1020.8" y1="118.3" x2="1054.2" y2="118.3" stroke="#86a3b8" stroke-width="1.2"/>
<line x1="1078.4" y1="118.3" x2="1110.9" y2="118.3" stroke="#86a3b8" stroke-width="1.2"/>
<line x1="1131.8" y1="118.3" x2="1164.4" y2="118.3" stroke="#86a3b8" stroke-width="1.2"/>
<line x1="743.3" y1="361.4" x2="776.7" y2="361.4" stroke="#86a3b8" stroke-width="1.2"/>
<line x1="798.1" y1="361.4" x2="831.5" y2="361.4" stroke="#86a3b8" stroke-width="1.2"/>
<line x1="853.0" y1="361.4" x2="886.4" y2="361.4" stroke="#86a3b8" stroke-width="1.2"/>
<line x1="911.1" y1="361.4" x2="943.8" y2="361.4" stroke="#86a3b8" stroke-width="1.2"/>
<line x1="965.3" y1="361.4" x2="997.3" y2="361.4" stroke="#86a3b8" stroke-width="1.2"/>
<text x="776.8" y="162.8" font-size="9.6" fill="#a3ba3a" text-anchor="middle" font-weight="normal" >Büro</text>
<text x="868.5" y="163.1" font-size="9.6" fill="#66ba3a" text-anchor="middle" font-weight="normal" >Büro</text>
<text x="949.8" y="163.1" font-size="9.6" fill="#75ba3a" text-anchor="middle" font-weight="normal" >Büro</text>
<text x="1063.0" y="163.1" font-size="9.6" fill="#a3ba3a" text-anchor="middle" font-weight="normal" >Büro</text>
<text x="1162.0" y="172.8" font-size="9.6" fill="#bd9d3a" text-anchor="middle" font-weight="normal" >Lager</text>
<text x="1133.9" y="272.2" font-size="9.6" fill="#84ba3a" text-anchor="middle" font-weight="normal" >Küchenbereich</text>
<text x="808.2" y="299.9" font-size="9.6" fill="#84ba3a" text-anchor="middle" font-weight="normal" >Besprechungsraum</text>
<text x="926.6" y="299.9" font-size="9.6" fill="#4dba3a" text-anchor="middle" font-weight="normal" >Büro</text>
<text x="980.9" y="300.3" font-size="9.6" fill="#bd8c3a" text-anchor="middle" font-weight="normal" >Büro</text>
<text x="1166.2" y="356.5" font-size="9.0" fill="#111" text-anchor="middle" font-weight="normal" >Toiletten</text>
<circle cx="900" cy="223.9" r="6" fill="#ff0000"/>
<polygon fill="#fffb55" points="67.3,471.2 500.1,471.2 500.1,509.3 476.5,520.4 476.5,548.8 500.1,557.6 588.7,557.6 588.7,651.7 500.1,651.7 500.1,674.6 451.6,676 429.4,692.6 429.4,720.3 452.3,745.2 452.3,754.9 57.2,754.9 57.2,480.2" />
<polygon fill="#dcfb4e" points="189.9,471.2 188.6,484.4 183.0,492.7 176.1,510.7 173.3,531.5 169.2,540.5 123.4,555.1 111.0,570.3 98.5,581.4 99.9,603.6 108.2,609.1 116.5,614.9 127.6,619.2 147.0,628.2 115.1,644.1 97.1,660.7 86.0,676.0 95.7,696.8 98.5,721.7 122.1,732.8 133.1,745.2 137.3,754.9 221.8,754.9 230.0,720.3 245.2,716.8 263.3,718.2 281.3,721.7 289.6,712.0 296.5,684.3 301.1,673.2 303.4,670.4 311.8,662.1 333.9,678.0 339.5,670.4 338.1,652.4 311.8,642.7 306.2,628.9 315.9,621.9 354.7,617.8 410.0,615.0 410.0,616.4 455.7,617.1 476.5,621.9 487.6,630.2 498.7,642.7 512.5,651.7 551.3,651.7 551.3,628.9 554.1,615.0 555.5,600.1 554.1,589.7 547.2,581.4 523.6,591.8 498.7,584.2 476.5,586.9 469.6,580.0 451.6,575.8 428.0,582.8 410.0,585.3 410.0,585.5 355.4,584.2 351.9,575.8 347.8,557.8 368.6,526.0 376.9,509.3 368.6,492.0 367.2,490.6 363.0,471.2" />
<polygon fill="#fffb55" points="234.2,471.2 268.8,471.2 264.6,483.0 238.3,483.0" />
<polygon fill="#b3fb4e" points="196.9,471.2 194.1,485.8 185.1,499.6 183.7,531.5 171.9,553.7 147.0,570.3 135.9,582.8 130.4,593.9 124.8,603.6 133.1,614.9 147.0,615.0 165.0,627.5 126.2,651.7 153.9,676.0 144.2,698.1 144.2,723.1 174.7,730.0 206.6,736.9 216.3,741.8 223.2,724.5 230.0,717.5 230.0,705.1 245.2,705.1 271.6,703.7 285.4,692.6 295.1,670.4 301.1,656.6 303.4,635.8 307.6,623.3 315.9,617.8 354.4,615.0 354.4,609.1 410.0,609.8 410.0,609.8 444.6,609.8 476.5,614.9 482.1,615.0 498.7,633.0 516.7,651.7 529.2,651.7 531.9,628.9 540.2,615.0 548.6,614.9 548.6,600.1 520.8,600.1 498.7,595.2 476.5,596.6 468.2,589.7 451.6,582.8 410.0,593.2 410.0,592.5 355.4,592.5 354.4,583.5 349.2,575.8 347.8,556.5 354.0,537.1 355.4,520.4 361.6,509.3 355.4,496.9 354.7,490.6 354.7,471.2" />
<polygon fill="#8afb4e" points="355.4,586.9 381.0,595.9 355.4,604.9" />
<polygon fill="#8afb4e" points="216.3,498.3 192.7,510.7 194.1,531.5 191.3,555.1 183.0,575.8 174.7,584.2 144.2,586.9 133.1,602.2 147.0,614.9 174.7,615.0 195.5,628.2 191.3,660.7 186.5,677.4 187.2,696.8 192.7,703.7 217.7,706.5 230.0,696.8 230.0,692.6 245.2,690.5 263.3,687.1 279.9,673.2 291.0,656.6 301.1,642.7 303.4,626.1 310.4,615.0 354.0,612.2 354.0,583.5 339.5,580.0 338.1,556.5 347.8,531.5 350.5,503.8 333.9,496.2 310.4,506.6 288.2,503.1 263.3,514.2 246.4,506.6 230.0,501.0" />
<polygon fill="#68fb4e" points="230.0,542.6 226.0,559.2 202.4,574.5 188.6,585.5 155.3,589.7 144.2,603.6 160.8,614.9 216.3,615.0 226.0,628.9 221.8,651.0 230.0,659.3 230.0,674.6 245.2,680.1 264.6,676.0 275.7,660.7 289.6,646.9 301.1,628.9 304.8,615.0 304.8,612.2 327.0,611.2 345.0,604.3 327.0,589.7 304.8,583.5 307.6,575.8 313.1,556.5 335.3,532.9 332.5,526.0 310.4,528.0 285.4,537.1 263.3,537.1 239.7,533.6 230.0,542.6" />
<polygon fill="#50fb50" points="230.0,585.5 192.7,589.7 167.8,604.3 188.6,611.2 230.0,611.9 230.0,662.1 241.1,669.7 263.9,660.7 267.4,652.4 281.3,631.6 292.4,623.3 301.1,617.8 299.3,612.2 310.4,603.6 293.7,583.5 288.2,571.0 264.6,574.5 246.4,582.8 230.0,583.5" />
<polygon fill="#ffd44e" points="67.3,471.2 180.2,471.2 178.9,485.8 171.9,501.0 160.8,516.3 147.0,530.1 98.5,521.8 91.6,534.3 93.0,557.8 83.3,570.3 68.7,580.0 73.6,589.7 81.9,614.9 84.6,615.0 126.2,628.2 98.5,642.7 80.5,670.4 72.9,676.0 76.3,687.1 79.8,721.7 77.7,730.0 86.0,739.7 74.9,754.9 57.2,754.9 57.2,480.2" />
<polygon fill="#ffa84e" points="67.3,471.2 170.5,471.2 167.8,481.6 159.5,498.3 147.0,512.1 102.7,503.1 90.2,509.3 81.9,526.0 77.7,537.1 82.6,556.5 70.8,575.8 72.2,614.9 74.9,615.0 84.6,619.2 93.0,628.9 84.6,649.6 77.7,673.2 72.2,712.0 63.9,736.9 57.2,743.9 57.2,480.2" />
<polygon fill="#808080" points="67.3,471.2 109.6,471.2 103.3,479.5 79.1,483.0 70.8,487.2 64.5,494.8 57.2,503.8 57.2,480.2" />
<polygon fill="#808080" points="57.2,542.6 63.9,550.9 62.5,556.5 57.2,563.4" />
<polygon fill="#808080" points="57.2,615.0 73.6,615.0 77.0,628.9 70.8,651.0 57.2,656.6" />
<polygon fill="#808080" points="57.2,717.5 61.8,722.4 57.2,725.8" />
<polygon fill="#ffd44e" points="368.6,471.2 371.3,490.6 382.4,492.0 379.6,516.3 375.5,528.7 357.5,557.8 379.6,571.7 410.0,571.4 410.0,571.4 444.6,571.7 469.6,562.0 475.1,555.1 487.6,556.5 507.0,575.8 523.6,584.9 534.7,573.1 543.0,557.6 500.1,557.6 476.5,548.8 476.5,520.4 500.1,509.3 500.1,471.7" />
<polygon fill="#ffd44e" points="556.9,557.6 588.7,557.6 588.7,595.2 568.0,593.9 556.9,573.1" />
<polygon fill="#ffd44e" points="570.7,620.5 588.7,623.3 588.7,651.7 569.3,651.7" />
<polygon fill="#ffa84e" points="569.3,557.6 588.7,557.6 588.7,567.5 570.7,566.2" />
<polygon fill="#ffa84e" points="403.2,471.2 406.0,478.9 410.0,491.3 410.0,512.1 381.0,527.4 368.6,556.5 381.0,566.8 410.0,565.9 410.0,565.3 455.7,562.0 471.0,553.7 476.5,548.8 476.5,520.4 500.1,509.3 500.1,471.7" />
<polygon fill="#808080" points="410.0,522.5 393.5,532.9 380.3,556.5 383.8,559.2 410.0,560.6" />
<polygon fill="#808080" points="423.2,471.7 500.1,471.7 500.1,509.3 476.5,520.4 476.5,542.6 469.6,546.8 451.6,556.5 410.0,559.2 410.0,521.8 426.6,509.3 423.2,491.3" />
<polygon fill="#ffa84e" points="437.7,471.7 462.7,471.7 462.0,487.2 453.0,497.6 446.0,491.3 439.1,485.8" />
<polygon fill="#9e9e9e" points="422.5,534.3 451.6,519.7 475.8,520.4 475.8,536.4 451.6,540.5 432.2,538.4" />
<polygon fill="#ffd44e" points="296.5,754.9 299.3,725.8 302.1,698.1 311.8,678.7 335.3,698.1 353.3,687.1 360.2,674.6 360.2,660.7 351.9,641.3 332.5,631.6 313.1,628.9 329.8,626.1 350.5,621.9 410.0,619.2 410.0,619.8 448.8,621.2 465.4,628.9 482.1,638.6 500.1,656.6 500.1,674.6 451.6,676.0 429.4,692.6 429.4,720.3 452.3,745.2 452.3,754.9" />
<polygon fill="#ffa84e" points="304.8,754.9 302.7,736.9 303.4,712.0 311.8,695.4 335.3,714.1 354.7,717.5 363.0,703.7 369.9,673.2 367.2,646.9 350.5,634.4 340.8,628.2 354.7,625.4 379.6,623.3 410.0,624.0 410.0,623.3 444.6,625.4 462.7,634.4 479.3,642.7 500.1,660.7 500.1,674.6 451.6,676.0 429.4,692.6 429.4,720.3 452.3,745.2 452.3,754.9" />
<polygon fill="#808080" points="367.2,628.9 379.6,627.2 410.0,628.2 410.0,628.9 417.6,637.0 428.7,647.4 452.3,638.4 475.8,649.5 500.1,668.3 500.1,674.6 451.6,676.0 429.4,692.6 429.4,720.3 452.3,745.2 452.3,754.9 313.1,754.9 309.0,739.7 309.0,720.3 313.1,714.8 335.3,730.0 346.4,734.2 361.6,734.2 371.3,724.5 372.7,703.7 379.0,660.7 375.5,645.5" />
<polygon fill="#9e9e9e" points="410.0,647.6 399.0,651.0 393.5,681.5 382.4,698.1 393.5,723.1 389.3,732.8 376.9,746.6 378.3,754.9 452.3,754.9 452.3,745.2 429.4,720.3 429.4,692.6 451.6,676.0 500.1,674.6 500.1,670.4 476.5,652.4 455.7,649.6 429.4,664.2 410.0,649.6" />
<polygon fill="#ffd44e" points="232.8,754.9 232.8,742.5 239.7,727.2 257.7,731.4 270.2,739.7 273.0,754.9" />
<polygon fill="#ffa84e" points="234.2,754.9 235.5,743.9 241.1,736.9 257.7,739.7 263.3,748.0 264.6,754.9" />
<polygon fill="#808080" points="239.0,754.9 240.4,744.6 245.2,746.6 247.3,754.9" />
<line x1="463.0" y1="471.2" x2="588.7" y2="471.2" stroke="#222" stroke-width="0.90"/>
<line x1="588.7" y1="651.7" x2="588.7" y2="755.0" stroke="#555" stroke-width="0.80"/>
<line x1="57.2" y1="471.2" x2="57.2" y2="481.0" stroke="#333" stroke-width="0.80"/>
<rect x="477.6" y="735.3" width="35.0" height="5.8" fill="#cfe8f3"/>
<rect x="368.0" y="733.0" width="33.6" height="7.1" fill="#d6ecf5"/>
<line x1="354.7" y1="685.1" x2="363.0" y2="685.1" stroke="#555" stroke-width="0.80"/>
<line x1="380.6" y1="685.1" x2="468.5" y2="685.1" stroke="#555" stroke-width="0.80"/>
<line x1="380.6" y1="687.9" x2="468.5" y2="687.9" stroke="#555" stroke-width="0.80"/>
<line x1="363.0" y1="687.7" x2="380.6" y2="687.7" stroke="#8a5a2a" stroke-width="0.90"/>
<line x1="468.5" y1="685.1" x2="468.5" y2="735.3" stroke="#444" stroke-width="1.00"/>
<line x1="358.2" y1="690.6" x2="363.0" y2="690.6" stroke="#555" stroke-width="0.80"/>
<line x1="380.6" y1="690.6" x2="463.6" y2="690.6" stroke="#555" stroke-width="0.80"/>
<line x1="463.6" y1="690.6" x2="463.6" y2="732.5" stroke="#555" stroke-width="0.80"/>
<line x1="358.2" y1="732.5" x2="463.6" y2="732.5" stroke="#555" stroke-width="0.80"/>
<line x1="358.2" y1="688.2" x2="358.2" y2="736.2" stroke="#555" stroke-width="0.80"/>
<line x1="384.7" y1="692.0" x2="384.7" y2="731.1" stroke="#c77ab8" stroke-width="0.80"/>
<line x1="384.7" y1="699.1" x2="455.3" y2="699.1" stroke="#c77ab8" stroke-width="0.80"/>
<line x1="455.3" y1="699.1" x2="455.3" y2="722.7" stroke="#c77ab8" stroke-width="0.80"/>
<line x1="384.7" y1="711.5" x2="447.5" y2="711.5" stroke="#c77ab8" stroke-width="0.80"/>
<line x1="384.7" y1="722.8" x2="455.3" y2="722.8" stroke="#9b2a0a" stroke-width="1.00"/>
<polygon points="390.4,694.1 390.4,703.9 385.4,699.1" fill="none" stroke="#c77ab8" stroke-width="0.8"/>
<path d="M380.6 687.9 A17.2 17.1 0 0 1 363.0 705.0" fill="none" stroke="#b08090" stroke-width="0.80"/>
<line x1="468.5" y1="685.8" x2="559.4" y2="685.8" stroke="#8a5a2a" stroke-width="1.10"/>
<line x1="469.8" y1="710.3" x2="559.4" y2="710.3" stroke="#8a5a2a" stroke-width="1.10"/>
<line x1="489.5" y1="685.8" x2="489.5" y2="710.3" stroke="#8a5a2a" stroke-width="1.10"/>
<line x1="527.2" y1="685.8" x2="527.2" y2="736.7" stroke="#8a5a2a" stroke-width="1.10"/>
<line x1="484.9" y1="687.0" x2="527.2" y2="687.0" stroke="#333" stroke-width="0.80"/>
<line x1="484.9" y1="708.8" x2="559.4" y2="708.8" stroke="#666" stroke-width="0.70"/>
<line x1="555.9" y1="651.3" x2="555.9" y2="738.0" stroke="#555" stroke-width="0.80"/>
<line x1="559.4" y1="651.3" x2="559.4" y2="738.0" stroke="#555" stroke-width="0.80"/>
<line x1="563.6" y1="651.6" x2="563.6" y2="733.2" stroke="#555" stroke-width="0.80"/>
<line x1="563.6" y1="733.2" x2="576.9" y2="733.2" stroke="#555" stroke-width="0.80"/>
<line x1="354.7" y1="737.4" x2="477.6" y2="737.4" stroke="#555" stroke-width="0.80"/>
<line x1="512.6" y1="737.4" x2="576.9" y2="737.4" stroke="#555" stroke-width="0.80"/>
<line x1="354.7" y1="740.8" x2="576.9" y2="740.8" stroke="#777" stroke-width="0.80"/>
<line x1="468.5" y1="735.3" x2="477.6" y2="735.3" stroke="#444" stroke-width="0.80"/>
<path d="M505.6 687.9 A14.6 14.6 0 0 1 491.6 702.5" fill="none" stroke="#4aa39a" stroke-width="0.80"/>
<path d="M542.5 687.9 A13.1 13.1 0 0 1 529.3 701.0" fill="none" stroke="#4aa39a" stroke-width="0.80"/>
<path d="M529.3 717.4 A15.1 15.1 0 0 1 542.5 732.5" fill="none" stroke="#4aa39a" stroke-width="0.80"/>
<path d="M484.7 686.5 A14.1 14.1 0 0 1 470.6 700.6" fill="none" stroke="#b88aa0" stroke-width="0.80"/>
<path d="M484.7 713.0 A14.1 14.1 0 0 1 470.6 727.0" fill="none" stroke="#b88aa0" stroke-width="0.80"/>
<line x1="551.0" y1="687.2" x2="551.0" y2="709.3" stroke="#4aa39a" stroke-width="0.80"/>
<line x1="551.0" y1="712.3" x2="551.0" y2="736.5" stroke="#4aa39a" stroke-width="0.80"/>
<line x1="509.2" y1="713.4" x2="509.2" y2="723.4" stroke="#4aa39a" stroke-width="1.00"/>
<line x1="531.4" y1="734.0" x2="542.5" y2="734.0" stroke="#4aa39a" stroke-width="0.70"/>
<line x1="491.6" y1="688.2" x2="504.1" y2="688.2" stroke="#4aa39a" stroke-width="0.70"/>
<line x1="529.3" y1="688.2" x2="541.4" y2="688.2" stroke="#4aa39a" stroke-width="0.70"/>
<ellipse cx="545.4" cy="697.7" rx="3.6" ry="2.6" fill="none" stroke="#c9785a" stroke-width="0.8"/>
<rect x="548.8" y="695.2" width="1.6" height="5" fill="none" stroke="#c9785a" stroke-width="0.6"/>
<ellipse cx="545.4" cy="724.1" rx="3.6" ry="2.6" fill="none" stroke="#c9785a" stroke-width="0.8"/>
<rect x="548.8" y="721.6" width="1.6" height="5" fill="none" stroke="#c9785a" stroke-width="0.6"/>
<path d="M510.5 702.5 h7 l-1 6 h-5 z" fill="none" stroke="#c9785a" stroke-width="0.8"/>
<path d="M493.6 713.7 h7 l-1 6 h-5 z" fill="none" stroke="#c9785a" stroke-width="0.8"/>
<path d="M512.5 713.7 h7 l-1 6 h-5 z" fill="none" stroke="#c9785a" stroke-width="0.8"/>
<rect x="415.3" y="639.9" width="16.1" height="10.1" fill="none" stroke="rgba(80,60,30,0.35)" stroke-width="0.7"/>
<rect x="417.3" y="642.4" width="5" height="5.5" fill="none" stroke="rgba(80,60,30,0.4)" stroke-width="0.7"/>
<path d="M159.8 582.9 L159.8 566.2 A16.8 16.7 0 0 0 143.0 582.9" fill="none" stroke="rgba(40,70,30,0.38)" stroke-width="0.8"/>
<path d="M221.9 582.9 L221.9 566.2 A16.8 16.7 0 0 0 205.2 582.9" fill="none" stroke="rgba(40,70,30,0.38)" stroke-width="0.8"/>
<path d="M258.2 582.9 L258.2 565.8 A17.2 17.1 0 0 1 275.3 582.9" fill="none" stroke="rgba(40,70,30,0.38)" stroke-width="0.8"/>
<path d="M159.8 611.9 L159.8 628.6 A16.8 16.7 0 0 1 143.0 611.9" fill="none" stroke="rgba(40,70,30,0.38)" stroke-width="0.8"/>
<path d="M221.9 611.9 L221.9 628.6 A16.8 16.7 0 0 1 205.2 611.9" fill="none" stroke="rgba(40,70,30,0.38)" stroke-width="0.8"/>
<path d="M258.2 611.9 L258.2 628.6 A16.8 16.7 0 0 0 274.9 611.9" fill="none" stroke="rgba(40,70,30,0.38)" stroke-width="0.8"/>
<path d="M337.9 611.9 L337.9 628.6 A16.8 16.7 0 0 1 321.1 611.9" fill="none" stroke="rgba(40,70,30,0.38)" stroke-width="0.8"/>
<path d="M445.5 578.7 L445.5 562.0 A16.8 16.7 0 0 0 428.7 578.7" fill="none" stroke="rgba(40,70,30,0.38)" stroke-width="0.8"/>
<path d="M358.2 589.1 L374.3 589.1 A16.1 16.1 0 0 1 358.2 605.2" fill="none" stroke="rgba(40,70,30,0.38)" stroke-width="0.8"/>
<path d="M463.6 584.7 A12.1 12.1 0 0 1 475.7 596.8 L463.6 596.8" fill="none" stroke="rgba(40,70,30,0.38)" stroke-width="0.8"/>
<line x1="72.0" y1="487.7" x2="556.6" y2="487.7" stroke="rgba(60,60,30,0.30)" stroke-width="0.7"/>
<line x1="72.0" y1="487.7" x2="72.0" y2="739.8" stroke="rgba(60,60,30,0.30)" stroke-width="0.7"/>
<line x1="78.8" y1="494.9" x2="78.8" y2="732.9" stroke="rgba(60,60,30,0.30)" stroke-width="0.7"/>
<line x1="78.8" y1="494.9" x2="353.7" y2="494.9" stroke="rgba(60,60,30,0.30)" stroke-width="0.7"/>
<line x1="72.0" y1="739.8" x2="354.7" y2="739.8" stroke="rgba(60,60,30,0.30)" stroke-width="0.7"/>
<line x1="78.8" y1="732.9" x2="353.7" y2="732.9" stroke="rgba(60,60,30,0.30)" stroke-width="0.7"/>
<rect x="500.3" y="487.9" width="12.2" height="8.3" fill="#d8eef6"/>
<line x1="512.5" y1="487.2" x2="577.0" y2="487.2" stroke="#666" stroke-width="0.80"/>
<line x1="512.5" y1="495.5" x2="554.1" y2="495.5" stroke="#666" stroke-width="0.80"/>
<line x1="554.1" y1="495.5" x2="554.1" y2="557.6" stroke="#777" stroke-width="0.80"/>
<line x1="512.5" y1="487.2" x2="512.5" y2="495.5" stroke="#444" stroke-width="0.80"/>
<polyline points="556.6,500 559.5,500 559.5,505.5 562.5,505.5 562.5,495.5 577,495.5" stroke="#666" stroke-width="0.80" fill="none"/>
<line x1="75.6" y1="491.3" x2="423.2" y2="491.3" stroke="#9b2a0a" stroke-width="1.50"/>
<line x1="469.6" y1="491.3" x2="477.9" y2="491.3" stroke="#9b2a0a" stroke-width="1.50"/>
<line x1="512.5" y1="491.3" x2="577.0" y2="491.3" stroke="#9b2a0a" stroke-width="1.50"/>
<line x1="75.6" y1="491.3" x2="75.6" y2="736.2" stroke="#9b2a0a" stroke-width="1.50"/>
<line x1="75.6" y1="736.2" x2="475.0" y2="737.0" stroke="#9b2a0a" stroke-width="1.50"/>
<line x1="513.0" y1="737.6" x2="576.0" y2="737.6" stroke="#9b2a0a" stroke-width="1.50"/>
<line x1="183.3" y1="491.3" x2="183.3" y2="583.5" stroke="#9b2a0a" stroke-width="1.50"/>
<line x1="245.5" y1="491.3" x2="245.5" y2="583.5" stroke="#9b2a0a" stroke-width="1.50"/>
<line x1="354.4" y1="491.3" x2="354.4" y2="736.2" stroke="#9b2a0a" stroke-width="1.50"/>
<rect x="130.4" y="583.5" width="224" height="28.4" fill="none" stroke="#9b2a0a" stroke-width="1.8"/>
<line x1="75.6" y1="598.3" x2="130.4" y2="598.3" stroke="#9b2a0a" stroke-width="1.50"/>
<line x1="245.2" y1="611.9" x2="245.2" y2="736.2" stroke="#9b2a0a" stroke-width="1.50"/>
<line x1="301.1" y1="611.9" x2="301.1" y2="736.2" stroke="#9b2a0a" stroke-width="1.50"/>
<line x1="354.4" y1="579.3" x2="469.6" y2="579.3" stroke="#9b2a0a" stroke-width="1.50"/>
<line x1="469.6" y1="491.3" x2="469.6" y2="579.3" stroke="#9b2a0a" stroke-width="1.50"/>
<line x1="462.0" y1="579.3" x2="462.0" y2="600.8" stroke="#4a2a1a" stroke-width="1.50"/>
<line x1="452.3" y1="600.8" x2="556.9" y2="600.8" stroke="#6a2a10" stroke-width="1.80"/>
<line x1="556.6" y1="491.3" x2="556.6" y2="737.0" stroke="#9b2a0a" stroke-width="1.50"/>
<line x1="556.6" y1="594.8" x2="577.0" y2="594.8" stroke="#6a2a10" stroke-width="1.50"/>
<line x1="559.0" y1="631.2" x2="576.3" y2="631.2" stroke="#6a2a10" stroke-width="1.50"/>
<line x1="559.0" y1="644.4" x2="572.0" y2="644.4" stroke="#6a2a10" stroke-width="1.50"/>
<line x1="354.4" y1="687.0" x2="468.2" y2="686.6" stroke="#9b2a0a" stroke-width="1.50"/>
<line x1="468.2" y1="686.4" x2="558.3" y2="686.4" stroke="#7a3a1a" stroke-width="1.30"/>
<line x1="468.2" y1="686.4" x2="468.2" y2="735.5" stroke="#9b2a0a" stroke-width="1.50"/>
<line x1="484.8" y1="710.6" x2="558.3" y2="710.6" stroke="#9b2a0a" stroke-width="1.50"/>
<line x1="526.4" y1="686.4" x2="526.4" y2="737.6" stroke="#8a5a1a" stroke-width="1.30"/>
<line x1="489.0" y1="686.4" x2="489.0" y2="710.6" stroke="#6a4a1a" stroke-width="1.30"/>
<line x1="384.5" y1="723.1" x2="454.3" y2="722.6" stroke="#9b2a0a" stroke-width="1.50"/>
<line x1="87.7" y1="491.3" x2="121.3" y2="491.3" stroke="#86a3b8" stroke-width="1.2"/>
<line x1="142.9" y1="491.3" x2="176.5" y2="491.3" stroke="#86a3b8" stroke-width="1.2"/>
<line x1="198.2" y1="491.3" x2="231.8" y2="491.3" stroke="#86a3b8" stroke-width="1.2"/>
<line x1="256.8" y1="491.3" x2="289.7" y2="491.3" stroke="#86a3b8" stroke-width="1.2"/>
<line x1="311.3" y1="491.3" x2="343.5" y2="491.3" stroke="#86a3b8" stroke-width="1.2"/>
<line x1="367.3" y1="491.3" x2="400.9" y2="491.3" stroke="#86a3b8" stroke-width="1.2"/>
<line x1="87.7" y1="736.2" x2="121.3" y2="736.2" stroke="#86a3b8" stroke-width="1.2"/>
<line x1="142.9" y1="736.2" x2="176.5" y2="736.2" stroke="#86a3b8" stroke-width="1.2"/>
<line x1="198.2" y1="736.2" x2="231.8" y2="736.2" stroke="#86a3b8" stroke-width="1.2"/>
<line x1="256.8" y1="736.2" x2="289.7" y2="736.2" stroke="#86a3b8" stroke-width="1.2"/>
<line x1="311.3" y1="736.2" x2="343.5" y2="736.2" stroke="#86a3b8" stroke-width="1.2"/>
<text x="121.4" y="536.1" font-size="9.6" fill="#bdba3f" text-anchor="middle" font-weight="normal" >Büro</text>
<text x="213.5" y="536.4" font-size="9.6" fill="#66ba3a" text-anchor="middle" font-weight="normal" >Büro</text>
<text x="294.6" y="536.7" font-size="9.6" fill="#5aba3a" text-anchor="middle" font-weight="normal" >Büro</text>
<text x="410.0" y="536.7" font-size="9.6" fill="#555555" text-anchor="middle" font-weight="normal" >Büro</text>
<text x="509.1" y="546.5" font-size="9.6" fill="#222222" text-anchor="middle" font-weight="normal" >Lager</text>
<text x="480.7" y="646.6" font-size="9.6" fill="#6a7a50" text-anchor="middle" font-weight="normal" >Küchenbereich</text>
<text x="152.5" y="673.6" font-size="9.6" fill="#a3ba3a" text-anchor="middle" font-weight="normal" >Besprechungsraum</text>
<text x="271.6" y="674.7" font-size="9.6" fill="#75ba3a" text-anchor="middle" font-weight="normal" >Büro</text>
<text x="326.7" y="675.0" font-size="9.6" fill="#bdba3f" text-anchor="middle" font-weight="normal" >Büro</text>
<text x="513.2" y="731.0" font-size="9.0" fill="#111" text-anchor="middle" font-weight="normal" >Toiletten</text>
<circle cx="245" cy="600.1" r="6" fill="#ff0000"/>
<polygon fill="#fffb55" points="723.7,470.3 1126.7,470.3 1126.7,509.1 1112.8,509.1 1103.8,531.3 1103.8,552.1 1119.7,554.1 1237.9,555.1 1237.9,648.7 1057.5,648.7 1057.5,695.1 1042.3,696.5 1033.3,711.8 1033.3,740.9 1009.7,741.6 987.5,754.7 713.3,754.7 713.3,479.3" />
<polygon fill="#dcfb4e" points="849.1,490.4 843.6,502.2 838.7,534.1 837.3,539.6 829.7,556.2 810.3,567.3 799.2,579.8 790.9,586.7 788.1,600.6 790.9,609.2 790.9,612.0 820.0,625.2 782.6,648.7 826.9,661.9 828.3,673.0 821.4,693.8 825.5,709.0 835.2,718.7 871.3,721.5 874.0,714.5 885.0,709.0 885.0,697.9 894.7,696.5 919.6,697.9 925.2,693.8 940.4,670.2 944.6,653.6 947.4,625.9 954.3,617.5 962.6,613.4 990.3,618.9 1006.9,616.2 1034.6,630.0 1065.0,612.0 1078.9,606.1 1096.9,601.9 1083.0,596.4 1065.0,595.7 1065.0,595.7 1006.9,586.7 1005.5,581.4 973.7,580.5 973.7,577.0 984.8,550.7 998.6,539.6 1005.5,531.3 1005.5,498.0 988.9,491.8 975.1,493.2 964.0,498.7 940.4,493.2 917.6,502.9 899.5,498.0 898.9,490.8 885.0,490.8" />
<polygon fill="#dcfb4e" points="926.6,695.1 940.4,706.2 943.2,727.0 937.7,727.0 932.1,709.0" />
<polygon fill="#dcfb4e" points="864.3,489.0 870.6,473.1 878.2,489.0" />
<polygon fill="#dcfb4e" points="872.7,722.8 883.7,721.5 885.0,754.7 874.0,754.7" />
<polygon fill="#b3fb4e" points="885.0,503.6 871.3,503.6 861.6,510.5 857.4,521.6 851.9,539.6 850.5,553.5 838.7,572.8 838.7,581.2 829.7,581.9 804.8,586.7 793.7,600.6 804.8,609.2 818.6,612.0 843.6,617.5 871.3,625.2 861.6,646.6 861.6,671.6 871.3,681.3 885.0,679.9 885.0,679.9 898.9,677.1 918.3,676.4 928.0,657.7 937.7,639.7 946.0,620.3 951.5,612.0 957.1,609.2 968.1,604.7 1005.5,603.3 1005.5,591.6 990.3,589.5 970.9,583.9 958.4,581.4 959.8,577.0 968.1,556.2 980.6,545.1 994.5,531.3 995.2,509.1 987.5,504.3 964.0,514.0 940.4,511.2 917.6,520.2 899.5,509.8 898.9,507.7 885.0,507.7" />
<polygon fill="#b3fb4e" points="1006.8,594 1050.4,601 1035.2,624.5 1008.9,609.3" />
<polygon fill="#8afb4e" points="1006.8,586.4 1022.7,589.9 1017.2,605.1 1006.8,606.5" />
<polygon fill="#8afb4e" points="885.0,547.9 883.7,557.6 868.5,567.3 849.1,571.5 838.7,579.8 838.7,581.4 843.6,583.9 810.3,590.9 800.6,600.6 815.8,609.2 885.0,609.2 885.0,627.2 893.3,630.0 898.9,632.8 916.9,632.8 926.6,623.1 934.9,612.0 954.3,609.2 968.1,601.9 995.8,597.1 979.2,592.2 962.6,585.3 948.7,581.4 946.0,572.8 940.4,557.6 899.5,550.7 894.7,549.3 885.0,557.6" />
<polygon fill="#68fb4e" points="885.0,567.3 876.8,572.8 875.4,581.4 846.3,588.1 814.5,601.3 843.6,608.6 885.0,608.9 885.0,621.7 912.7,623.1 919.6,612.0 940.4,608.9 962.6,597.8 958.4,590.9 947.4,583.9 926.6,581.4 898.9,580.9 885.0,580.9" />
<polygon fill="#50fb50" points="857.4,600.6 885.0,590.9 885.0,583.9 912.7,583.2 923.8,586.7 940.4,596.4 919.6,606.1 885.0,607.5 885.0,606.1" />
<polygon fill="#ffd44e" points="723.7,470.3 849.1,470.3 843.6,489.7 838.0,496.6 831.1,517.4 828.3,539.6 820.0,545.1 793.7,567.3 754.9,582.5 736.9,577.0 728.6,579.8 736.9,590.9 742.4,600.6 760.4,606.1 774.3,611.9 770.1,612.0 797.8,625.2 764.6,645.3 742.4,671.6 753.5,691.0 777.1,682.7 786.8,695.1 784.7,718.7 793.7,729.8 802.0,747.1 804.8,740.9 846.3,733.9 853.3,740.9 851.9,754.7 713.3,754.7 713.3,479.3" />
<polygon fill="#ffa84e" points="723.7,470.3 838.0,470.3 836.6,489.7 825.5,507.7 822.8,516.0 802.0,532.7 753.5,527.1 752.1,552.1 732.7,557.6 713.3,570.1 713.3,479.3" />
<polygon fill="#ffa84e" points="713.3,606.1 720.2,606.1 730.6,611.9 732.7,612.0 768.7,625.2 732.7,645.3 731.3,684.1 739.6,695.1 731.3,709.0 729.9,733.9 713.3,745.0" />
<polygon fill="#ffa84e" points="745.2,754.7 753.5,740.9 779.8,736.7 785.4,754.7" />
<polygon fill="#808080" points="723.7,470.3 828.3,470.3 826.9,486.9 818.6,499.4 802.0,512.6 754.9,505.0 739.6,529.9 732.7,539.6 713.3,561.8 713.3,479.3" />
<polygon fill="#9e9e9e" points="723.7,470.3 777.1,470.3 757.7,482.8 729.9,484.2 725.8,510.5 713.3,550.7 713.3,479.3" />
<polygon fill="#808080" points="713.3,621.7 726.5,625.2 713.3,632.1" />
<polygon fill="#808080" points="713.3,691.0 716.1,695.1 713.3,714.5" />
<polygon fill="#ffd44e" points="885.0,470.3 930.7,470.3 926.6,481.4 885.0,481.4" />
<polygon fill="#ffd44e" points="957.1,470.3 968.1,470.3 962.6,480.0" />
<polygon fill="#ffd44e" points="1000.0,470.3 1002.8,489.7 1006.9,491.1 1006.9,576.3 1065.0,576.3 1065.0,577.0 1119.7,577.0 1119.7,554.1 1103.8,552.1 1103.8,531.3 1112.8,509.1 1126.7,509.1 1126.7,470.6" />
<polygon fill="#fffb55" points="1006.9,496.6 1013.2,502.2 1023.6,509.1 1018.0,534.1 1009.0,550.7 1006.9,550.7" />
<polygon fill="#ffa84e" points="1009.7,470.3 1018.0,491.1 1029.1,503.6 1034.0,509.8 1018.0,539.6 1009.7,556.2 1034.6,564.5 1054.0,569.4 1065.0,565.6 1065.0,565.2 1099.6,552.8 1103.8,552.1 1103.8,531.3 1112.8,509.1 1126.7,509.1 1126.7,470.6" />
<polygon fill="#808080" points="1026.3,470.3 1042.3,470.3 1038.8,486.9 1034.0,489.0 1029.8,484.2" />
<polygon fill="#808080" points="1033.3,529.9 1040.9,532.7 1034.0,536.8" />
<polygon fill="#808080" points="1080.2,475.9 1089.9,485.6 1106.6,500.8 1112.8,509.1 1103.8,531.3 1102.4,541.7 1080.2,541.7 1065.0,531.3 1065.0,517.4 1074.7,489.7" />
<polygon fill="#ffd44e" points="1119.7,554.1 1140.5,555.1 1139.8,572.8 1134.3,586.7 1126.7,598.5 1119.7,577.0" />
<polygon fill="#ffd44e" points="1160.6,555.1 1182.8,555.1 1189.7,572.8 1205.6,598.5 1182.8,593.6 1171.7,582.5" />
<polygon fill="#ffa84e" points="1182.8,555.1 1200.1,555.1 1205.6,572.8 1205.6,598.5 1189.7,572.8" />
<polygon fill="#ffa84e" points="1205.6,592.2 1224.3,590.9 1237.9,596.4 1237.9,611.9 1205.6,611.9" />
<polygon fill="#ffd44e" points="1205.6,599.2 1217.4,600.6 1214.6,611.9 1205.6,611.9" />
<polygon fill="#808080" points="1200.1,555.1 1237.9,555.1 1237.9,596.4 1224.3,590.9 1210.5,577.0 1205.6,570.1" />
<polygon fill="#9e9e9e" points="1216.0,555.1 1237.9,555.1 1237.9,572.8 1221.6,568.7" />
<polygon fill="#ffd44e" points="1127.4,603.3 1148.1,600.6 1175.8,606.1 1195.2,600.6 1205.6,601.9 1205.6,611.9 1120.4,611.9" />
<polygon fill="#808080" points="1224.3,611.9 1228.5,603.3 1237.9,600.6 1237.9,611.9" />
<polygon fill="#ffd44e" points="1065.0,617.5 1092.7,616.2 1120.4,612.0 1217.4,612.0 1211.9,648.7 1065.0,648.7" />
<polygon fill="#fffb55" points="1137.1,612.0 1170.3,612.0 1150.9,622.4" />
<polygon fill="#ffa84e" points="1065.0,628.6 1080.9,623.1 1126.0,623.1 1129.4,625.9 1126.7,648.7 1065.0,648.7" />
<polygon fill="#ffa84e" points="1198.0,612.0 1204.9,612.0 1207.7,648.7 1189.7,648.7 1196.6,625.9" />
<polygon fill="#808080" points="1211.9,648.7 1210.5,628.6 1217.4,614.8 1221.6,612.0 1237.9,612.0 1237.9,648.7" />
<polygon fill="#ffd44e" points="955.0,631.4 959.8,618.9 965.4,617.5 990.3,623.1 1006.9,620.3 1034.6,634.2 1065.0,617.5 1065.0,648.7 1057.5,648.7 1057.5,695.1 1042.3,696.5 1033.3,711.8 1033.3,740.9 1009.7,741.6 987.5,754.7 947.4,754.7 947.4,731.2 954.3,731.2 955.0,695.1" />
<polygon fill="#ffd44e" points="885.0,709.0 894.7,707.6 918.3,709.0 925.2,722.8 930.7,740.9 919.6,750.6 897.5,749.2 887.8,740.9 885.0,736.7" />
<polygon fill="#ffa84e" points="957.1,671.6 964.0,661.9 987.5,679.9 1001.4,671.6 993.1,648.0 1005.5,634.9 1009.7,632.1 1034.0,637.6 1065.0,628.6 1065.0,648.7 1057.5,648.7 1057.5,695.1 1042.3,696.5 1033.3,711.8 1033.3,740.9 1009.7,741.6 987.5,754.7 959.8,754.7 960.5,736.7 954.3,731.2 955.0,695.1" />
<polygon fill="#ffa84e" points="959.8,624.5 973.7,624.5 964.0,634.9" />
<polygon fill="#ffa84e" points="908.6,740.9 916.9,728.4 921.0,739.5 917.6,745.7" />
<polygon fill="#808080" points="964.0,680.6 984.8,697.9 1005.5,711.8 1020.8,717.3 1033.3,727.0 1033.3,740.9 1009.7,741.6 987.5,754.7 982.0,749.2 970.9,736.7 962.6,728.4 959.1,714.5 959.8,693.8" />
<polygon fill="#808080" points="1010.4,648.0 1034.0,642.5 1058.2,648.7 1057.5,695.1 1042.3,696.5 1033.3,711.8 1026.3,695.1 1018.0,670.2" />
<polygon fill="#9e9e9e" points="1027.7,648.0 1034.6,646.6 1057.5,660.5 1057.5,695.1 1042.3,696.5 1037.4,689.6 1030.5,678.5 1027.0,660.5" />
<line x1="1126.7" y1="470.6" x2="1237.9" y2="470.6" stroke="#222" stroke-width="0.90"/>
<line x1="1237.6" y1="648.7" x2="1237.6" y2="755.0" stroke="#555" stroke-width="0.80"/>
<line x1="713.3" y1="470.3" x2="713.3" y2="480.0" stroke="#333" stroke-width="0.80"/>
<rect x="1127.7" y="731.0" width="34.5" height="5.8" fill="#cfe8f3"/>
<rect x="1019.6" y="728.7" width="33.1" height="7.1" fill="#d6ecf5"/>
<line x1="1006.6" y1="681.4" x2="1014.7" y2="681.4" stroke="#555" stroke-width="0.80"/>
<line x1="1032.0" y1="681.4" x2="1118.7" y2="681.4" stroke="#555" stroke-width="0.80"/>
<line x1="1032.0" y1="684.2" x2="1118.7" y2="684.2" stroke="#555" stroke-width="0.80"/>
<line x1="1014.7" y1="684.0" x2="1032.0" y2="684.0" stroke="#8a5a2a" stroke-width="0.90"/>
<line x1="1118.7" y1="681.4" x2="1118.7" y2="731.0" stroke="#444" stroke-width="1.00"/>
<line x1="1010.0" y1="686.9" x2="1014.7" y2="686.9" stroke="#555" stroke-width="0.80"/>
<line x1="1032.0" y1="686.9" x2="1114.0" y2="686.9" stroke="#555" stroke-width="0.80"/>
<line x1="1114.0" y1="686.9" x2="1114.0" y2="728.2" stroke="#555" stroke-width="0.80"/>
<line x1="1010.0" y1="728.2" x2="1114.0" y2="728.2" stroke="#555" stroke-width="0.80"/>
<line x1="1010.0" y1="684.5" x2="1010.0" y2="731.9" stroke="#555" stroke-width="0.80"/>
<line x1="1036.1" y1="688.3" x2="1036.1" y2="726.8" stroke="#c77ab8" stroke-width="0.80"/>
<line x1="1036.1" y1="695.2" x2="1105.7" y2="695.2" stroke="#c77ab8" stroke-width="0.80"/>
<line x1="1105.7" y1="695.2" x2="1105.7" y2="718.6" stroke="#c77ab8" stroke-width="0.80"/>
<line x1="1036.1" y1="707.5" x2="1098.0" y2="707.5" stroke="#c77ab8" stroke-width="0.80"/>
<line x1="1036.1" y1="718.7" x2="1105.7" y2="718.7" stroke="#9b2a0a" stroke-width="1.00"/>
<polygon points="1041.7,690.4 1041.7,700.0 1036.8,695.2" fill="none" stroke="#c77ab8" stroke-width="0.8"/>
<path d="M1032.0 684.2 A16.9 16.9 0 0 1 1014.7 701.1" fill="none" stroke="#b08090" stroke-width="0.80"/>
<line x1="1118.7" y1="682.1" x2="1208.4" y2="682.1" stroke="#8a5a2a" stroke-width="1.10"/>
<line x1="1120.0" y1="706.4" x2="1208.4" y2="706.4" stroke="#8a5a2a" stroke-width="1.10"/>
<line x1="1139.4" y1="682.1" x2="1139.4" y2="706.4" stroke="#8a5a2a" stroke-width="1.10"/>
<line x1="1176.7" y1="682.1" x2="1176.7" y2="732.4" stroke="#8a5a2a" stroke-width="1.10"/>
<line x1="1135.0" y1="683.3" x2="1176.7" y2="683.3" stroke="#333" stroke-width="0.80"/>
<line x1="1135.0" y1="704.9" x2="1208.4" y2="704.9" stroke="#666" stroke-width="0.70"/>
<line x1="1204.9" y1="648.1" x2="1204.9" y2="733.7" stroke="#555" stroke-width="0.80"/>
<line x1="1208.4" y1="648.1" x2="1208.4" y2="733.7" stroke="#555" stroke-width="0.80"/>
<line x1="1212.6" y1="648.3" x2="1212.6" y2="728.9" stroke="#555" stroke-width="0.80"/>
<line x1="1212.6" y1="728.9" x2="1225.6" y2="728.9" stroke="#555" stroke-width="0.80"/>
<line x1="1006.6" y1="733.1" x2="1127.7" y2="733.1" stroke="#555" stroke-width="0.80"/>
<line x1="1162.2" y1="733.1" x2="1225.6" y2="733.1" stroke="#555" stroke-width="0.80"/>
<line x1="1006.6" y1="736.5" x2="1225.6" y2="736.5" stroke="#777" stroke-width="0.80"/>
<line x1="1118.7" y1="731.0" x2="1127.7" y2="731.0" stroke="#444" stroke-width="0.80"/>
<path d="M1155.4 684.2 A14.4 14.4 0 0 1 1141.5 698.6" fill="none" stroke="#4aa39a" stroke-width="0.80"/>
<path d="M1191.7 684.2 A12.9 12.9 0 0 1 1178.7 697.1" fill="none" stroke="#4aa39a" stroke-width="0.80"/>
<path d="M1178.7 713.3 A14.9 14.9 0 0 1 1191.7 728.2" fill="none" stroke="#4aa39a" stroke-width="0.80"/>
<path d="M1134.8 682.8 A13.9 13.9 0 0 1 1120.8 696.7" fill="none" stroke="#b88aa0" stroke-width="0.80"/>
<path d="M1134.8 708.9 A13.9 13.9 0 0 1 1120.8 722.8" fill="none" stroke="#b88aa0" stroke-width="0.80"/>
<line x1="1200.1" y1="683.5" x2="1200.1" y2="705.4" stroke="#4aa39a" stroke-width="0.80"/>
<line x1="1200.1" y1="708.3" x2="1200.1" y2="732.2" stroke="#4aa39a" stroke-width="0.80"/>
<line x1="1158.8" y1="709.3" x2="1158.8" y2="719.3" stroke="#4aa39a" stroke-width="1.00"/>
<line x1="1180.7" y1="729.7" x2="1191.7" y2="729.7" stroke="#4aa39a" stroke-width="0.70"/>
<line x1="1141.5" y1="684.5" x2="1153.9" y2="684.5" stroke="#4aa39a" stroke-width="0.70"/>
<line x1="1178.7" y1="684.5" x2="1190.7" y2="684.5" stroke="#4aa39a" stroke-width="0.70"/>
<ellipse cx="1194.6" cy="693.8" rx="3.6" ry="2.6" fill="none" stroke="#c9785a" stroke-width="0.8"/>
<rect x="1198.0" y="691.3" width="1.6" height="5" fill="none" stroke="#c9785a" stroke-width="0.6"/>
<ellipse cx="1194.6" cy="720.0" rx="3.6" ry="2.6" fill="none" stroke="#c9785a" stroke-width="0.8"/>
<rect x="1198.0" y="717.5" width="1.6" height="5" fill="none" stroke="#c9785a" stroke-width="0.6"/>
<path d="M1160.1 698.6 h7 l-1 6 h-5 z" fill="none" stroke="#c9785a" stroke-width="0.8"/>
<path d="M1143.5 709.6 h7 l-1 6 h-5 z" fill="none" stroke="#c9785a" stroke-width="0.8"/>
<path d="M1162.1 709.6 h7 l-1 6 h-5 z" fill="none" stroke="#c9785a" stroke-width="0.8"/>
<rect x="1066.3" y="636.8" width="15.9" height="9.9" fill="none" stroke="rgba(80,60,30,0.35)" stroke-width="0.7"/>
<rect x="1068.3" y="639.3" width="5" height="5.5" fill="none" stroke="rgba(80,60,30,0.4)" stroke-width="0.7"/>
<path d="M814.3 580.5 L814.3 564.0 A16.5 16.5 0 0 0 797.8 580.5" fill="none" stroke="rgba(40,70,30,0.38)" stroke-width="0.8"/>
<path d="M875.6 580.5 L875.6 564.0 A16.5 16.5 0 0 0 859.1 580.5" fill="none" stroke="rgba(40,70,30,0.38)" stroke-width="0.8"/>
<path d="M911.3 580.5 L911.3 563.6 A16.9 16.9 0 0 1 928.3 580.5" fill="none" stroke="rgba(40,70,30,0.38)" stroke-width="0.8"/>
<path d="M814.3 609.2 L814.3 625.7 A16.5 16.5 0 0 1 797.8 609.2" fill="none" stroke="rgba(40,70,30,0.38)" stroke-width="0.8"/>
<path d="M875.6 609.2 L875.6 625.7 A16.5 16.5 0 0 1 859.1 609.2" fill="none" stroke="rgba(40,70,30,0.38)" stroke-width="0.8"/>
<path d="M911.3 609.2 L911.3 625.7 A16.5 16.5 0 0 0 927.9 609.2" fill="none" stroke="rgba(40,70,30,0.38)" stroke-width="0.8"/>
<path d="M990.0 609.2 L990.0 625.7 A16.5 16.5 0 0 1 973.4 609.2" fill="none" stroke="rgba(40,70,30,0.38)" stroke-width="0.8"/>
<path d="M1096.0 576.4 L1096.0 559.9 A16.5 16.5 0 0 0 1079.5 576.4" fill="none" stroke="rgba(40,70,30,0.38)" stroke-width="0.8"/>
<path d="M1010.0 586.7 L1025.9 586.7 A15.9 15.9 0 0 1 1010.0 602.6" fill="none" stroke="rgba(40,70,30,0.38)" stroke-width="0.8"/>
<path d="M1114.0 582.3 A11.9 11.9 0 0 1 1125.9 594.3 L1114.0 594.3" fill="none" stroke="rgba(40,70,30,0.38)" stroke-width="0.8"/>
<line x1="727.7" y1="486.5" x2="1205.6" y2="486.5" stroke="rgba(60,60,30,0.30)" stroke-width="0.7"/>
<line x1="727.7" y1="486.5" x2="727.7" y2="735.5" stroke="rgba(60,60,30,0.30)" stroke-width="0.7"/>
<line x1="734.5" y1="493.7" x2="734.5" y2="728.6" stroke="rgba(60,60,30,0.30)" stroke-width="0.7"/>
<line x1="734.5" y1="493.7" x2="1005.6" y2="493.7" stroke="rgba(60,60,30,0.30)" stroke-width="0.7"/>
<line x1="727.7" y1="735.5" x2="1006.6" y2="735.5" stroke="rgba(60,60,30,0.30)" stroke-width="0.7"/>
<line x1="734.5" y1="728.6" x2="1005.6" y2="728.6" stroke="rgba(60,60,30,0.30)" stroke-width="0.7"/>
<rect x="1128" y="485.6" width="34.7" height="9" fill="#d8eef6"/>
<line x1="1128.0" y1="486.2" x2="1225.7" y2="486.2" stroke="#666" stroke-width="0.80"/>
<line x1="1128.0" y1="494.6" x2="1203.6" y2="494.6" stroke="#666" stroke-width="0.80"/>
<line x1="1203.6" y1="494.6" x2="1203.6" y2="555.1" stroke="#777" stroke-width="0.80"/>
<line x1="1162.7" y1="486.2" x2="1162.7" y2="494.6" stroke="#444" stroke-width="0.80"/>
<line x1="1128.0" y1="486.2" x2="1128.0" y2="494.6" stroke="#444" stroke-width="0.80"/>
<polyline points="1205.6,498 1208.5,498 1208.5,503.5 1211.5,503.5 1211.5,494.6 1225.7,494.6" stroke="#666" stroke-width="0.80" fill="none"/>
<line x1="731.3" y1="490.1" x2="1120.4" y2="490.1" stroke="#9b2a0a" stroke-width="1.50"/>
<line x1="1162.7" y1="490.1" x2="1225.7" y2="490.1" stroke="#9b2a0a" stroke-width="1.50"/>
<line x1="731.3" y1="490.1" x2="731.3" y2="731.9" stroke="#9b2a0a" stroke-width="1.50"/>
<line x1="731.3" y1="731.9" x2="1126.0" y2="733.0" stroke="#9b2a0a" stroke-width="1.50"/>
<line x1="1162.0" y1="733.2" x2="1225.0" y2="733.2" stroke="#9b2a0a" stroke-width="1.50"/>
<line x1="837.7" y1="490.1" x2="837.7" y2="580.9" stroke="#9b2a0a" stroke-width="1.50"/>
<line x1="898.9" y1="490.1" x2="898.9" y2="580.9" stroke="#9b2a0a" stroke-width="1.50"/>
<line x1="1006.2" y1="490.1" x2="1006.2" y2="731.9" stroke="#9b2a0a" stroke-width="1.50"/>
<rect x="785.4" y="580.9" width="220.8" height="28.3" fill="none" stroke="#9b2a0a" stroke-width="1.8"/>
<line x1="731.3" y1="595.3" x2="785.4" y2="595.3" stroke="#9b2a0a" stroke-width="1.50"/>
<line x1="898.9" y1="609.2" x2="898.9" y2="731.9" stroke="#9b2a0a" stroke-width="1.50"/>
<line x1="954.3" y1="609.2" x2="954.3" y2="731.9" stroke="#9b2a0a" stroke-width="1.50"/>
<line x1="1006.2" y1="576.7" x2="1120.4" y2="576.7" stroke="#9b2a0a" stroke-width="1.50"/>
<line x1="1120.4" y1="490.1" x2="1120.4" y2="576.7" stroke="#9b2a0a" stroke-width="1.50"/>
<line x1="1112.4" y1="576.7" x2="1112.4" y2="598.5" stroke="#4a2a1a" stroke-width="1.50"/>
<line x1="1103.1" y1="598.5" x2="1205.6" y2="598.5" stroke="#9b2a0a" stroke-width="1.80"/>
<line x1="1205.6" y1="490.1" x2="1205.6" y2="733.0" stroke="#9b2a0a" stroke-width="1.50"/>
<line x1="1205.6" y1="592.2" x2="1225.7" y2="592.2" stroke="#9b2a0a" stroke-width="1.50"/>
<line x1="1208.4" y1="627.9" x2="1225.7" y2="627.9" stroke="#9b2a0a" stroke-width="1.50"/>
<line x1="1208.4" y1="641.4" x2="1221.6" y2="641.4" stroke="#9b2a0a" stroke-width="1.50"/>
<line x1="1006.2" y1="684.1" x2="1119.0" y2="683.4" stroke="#9b2a0a" stroke-width="1.50"/>
<line x1="1135.7" y1="683.4" x2="1207.7" y2="683.4" stroke="#9b2a0a" stroke-width="1.50"/>
<line x1="1119.0" y1="683.4" x2="1119.0" y2="731.9" stroke="#9b2a0a" stroke-width="1.50"/>
<line x1="1135.7" y1="706.9" x2="1207.7" y2="706.9" stroke="#9b2a0a" stroke-width="1.50"/>
<line x1="1175.8" y1="682.0" x2="1175.8" y2="733.2" stroke="#8a5a1a" stroke-width="1.30"/>
<line x1="1139.1" y1="682.0" x2="1139.1" y2="706.9" stroke="#6a4a1a" stroke-width="1.30"/>
<line x1="1036.0" y1="718.7" x2="1105.2" y2="718.7" stroke="#9b2a0a" stroke-width="1.50"/>
<line x1="743.2" y1="490.1" x2="776.4" y2="490.1" stroke="#86a3b8" stroke-width="1.2"/>
<line x1="797.7" y1="490.1" x2="830.8" y2="490.1" stroke="#86a3b8" stroke-width="1.2"/>
<line x1="852.2" y1="490.1" x2="885.4" y2="490.1" stroke="#86a3b8" stroke-width="1.2"/>
<line x1="909.9" y1="490.1" x2="942.4" y2="490.1" stroke="#86a3b8" stroke-width="1.2"/>
<line x1="963.8" y1="490.1" x2="995.5" y2="490.1" stroke="#86a3b8" stroke-width="1.2"/>
<line x1="1018.9" y1="490.1" x2="1052.1" y2="490.1" stroke="#86a3b8" stroke-width="1.2"/>
<line x1="1076.0" y1="490.1" x2="1108.4" y2="490.1" stroke="#86a3b8" stroke-width="1.2"/>
<line x1="743.2" y1="731.9" x2="776.4" y2="731.9" stroke="#86a3b8" stroke-width="1.2"/>
<line x1="797.7" y1="731.9" x2="830.8" y2="731.9" stroke="#86a3b8" stroke-width="1.2"/>
<line x1="852.2" y1="731.9" x2="885.4" y2="731.9" stroke="#86a3b8" stroke-width="1.2"/>
<line x1="909.9" y1="731.9" x2="942.4" y2="731.9" stroke="#86a3b8" stroke-width="1.2"/>
<line x1="963.8" y1="731.9" x2="995.5" y2="731.9" stroke="#86a3b8" stroke-width="1.2"/>
<text x="776.4" y="534.2" font-size="9.6" fill="#bd9d3a" text-anchor="middle" font-weight="normal" >Büro</text>
<text x="867.4" y="534.5" font-size="9.6" fill="#84ba3a" text-anchor="middle" font-weight="normal" >Büro</text>
<text x="948.0" y="534.7" font-size="9.6" fill="#84ba3a" text-anchor="middle" font-weight="normal" >Büro</text>
<text x="1061.0" y="534.7" font-size="9.6" fill="#b8752f" text-anchor="middle" font-weight="normal" >Büro</text>
<text x="1159.2" y="544.5" font-size="9.6" fill="#222222" text-anchor="middle" font-weight="normal" >Lager</text>
<text x="1130.8" y="642.9" font-size="9.6" fill="#bd9438" text-anchor="middle" font-weight="normal" >Küchenbereich</text>
<text x="807.3" y="670.3" font-size="9.6" fill="#bdb63c" text-anchor="middle" font-weight="normal" >Besprechungsraum</text>
<text x="924.9" y="670.6" font-size="9.6" fill="#a3ba3a" text-anchor="middle" font-weight="normal" >Büro</text>
<text x="979.2" y="670.9" font-size="9.6" fill="#bd8c3a" text-anchor="middle" font-weight="normal" >Büro</text>
<text x="1162.7" y="726.5" font-size="9.0" fill="#111" text-anchor="middle" font-weight="normal" >Toiletten</text>
<circle cx="900" cy="597.1" r="6" fill="#ff0000"/>
<g>
<polygon fill="#9e9e9e" points="101.3,867.1 152.5,867.1 152.5,878.2 160.8,890.7 178.2,901.7 178.2,913.5 147.0,913.5 135.9,901.7 124.8,901.0 112.4,890.0 101.3,890.0" />
<polygon fill="#9e9e9e" points="550.7,890.0 539.6,890.0 527.2,901.0 516.1,901.7 505.0,913.5 473.8,913.5 473.8,901.7 491.2,890.7 499.5,878.2 499.5,867.1 550.7,867.1" />
<polygon fill="#808080" points="77.7,990.8 98.5,988.7 122.1,989.4 137.3,997.7 158.1,993.5 160.8,988.0 230.0,988.0 230.0,1109.9 202.4,1109.9 192.7,1100.2 171.2,1098.8 171.2,1063.5 159.5,1052.4 135.9,1041.3 124.8,1041.3 124.8,1026.1 149.8,1025.4 170.5,1006.0 183.0,1004.6 195.5,994.2 167.8,995.6 133.1,997.7 119.3,991.5 91.6,992.8 77.7,993.5" />
<polygon fill="#9e9e9e" points="77.7,993.5 91.6,992.8 119.3,991.5 133.1,997.7 167.8,995.6 195.5,994.2 183.0,1004.6 170.5,1006.0 149.8,1025.4 124.8,1026.1 124.8,1041.3 113.0,1052.4 89.5,1052.4 89.5,1028.9 101.3,1028.9 112.4,1017.8 102.0,1006.0 77.7,1006.0" />
<polygon fill="#808080" points="77.7,993.5 90.2,993.5 81.9,1003.2 77.7,1005.3" />
<polygon fill="#9e9e9e" points="159.5,1052.4 212.8,1052.4 214.2,1060.1 206.6,1076.7 205.2,1085.0 171.2,1084.3 171.2,1063.5" />
<polygon fill="#808080" points="230.0,988.0 410.0,988.0 410.0,1109.9 230.0,1109.9" />
<polygon fill="#9e9e9e" points="241.8,1109.9 410.0,1109.9 410.0,1116.9 404.6,1121.7 392.1,1121.7 382.4,1131.4 274.3,1131.4 263.9,1121.7 252.2,1121.7" />
<polygon fill="#9e9e9e" points="410.0,994.2 530.5,994.2 520.2,1005.3 531.2,1017.1 543.7,1017.1 554.8,1028.9 566.6,1028.9 578.4,1040.7 584.9,1040.7 584.9,1087.1 566.6,1087.1 554.8,1075.3 531.2,1075.3 520.2,1063.5 508.4,1063.5 496.6,1052.4 484.8,1052.4 473.7,1063.5 484.8,1075.3 484.8,1096.1 458.5,1096.1 451.6,1109.9 410.0,1109.9" />
<polygon fill="#808080" points="410.0,994.2 491.8,994.2 497.3,1000.5 487.6,1007.4 484.8,1007.4 495.9,1019.9 515.3,1028.2 540.2,1040.7 530.5,1044.8 507.0,1042.0 492.4,1033.7 492.4,1052.4 436.3,1052.4 435.6,1063.5 442.6,1075.3 434.9,1085.0 451.6,1109.9 410.0,1109.9" />
<polygon fill="#9e9e9e" points="455.7,996.3 475.1,1006.0 484.8,1007.4 487.6,1007.4 497.3,1000.5 512.5,994.2 465.4,994.2" />
<polygon fill="#808080" points="536.1,988.0 584.9,988.0 584.9,994.2 536.1,994.2" />
<polygon fill="#808080" points="563.1,1062.8 566.6,1058.0 570.7,1063.5 566.6,1065.6" />
<clipPath id="clipa"><rect x="59.0" y="840" width="525.9" height="300"/></clipPath>
<g clip-path="url(#clipa)">
<polygon fill="#808080" points="59.0,952.0 59.0,924.6 147.0,924.6 147.0,913.5 178.2,912.8 178.2,901.7 160.8,890.7 152.5,878.2 152.5,865.0 229.4,865.0 229.4,848.3 326.0,848.3 326.0,952.0" />
<polygon fill="#808080" points="326.0,952.0 326.0,848.3 422.6,848.3 422.6,865.0 499.5,865.0 499.5,878.2 491.2,890.7 473.8,901.7 473.8,912.8 505.0,913.5 505.0,924.6 593.0,924.6 593.0,952.0" />
<polygon fill="#ffa84e" points="59.0,952.0 59.0,924.6 147.0,924.6 147.0,917.7 159.5,917.7 174.7,921.1 191.3,918.4 210.7,912.8 208.0,901.7 185.8,890.7 177.5,878.2 177.5,865.0 229.4,865.0 229.4,848.3 326.0,848.3 326.0,952.0" />
<polygon fill="#ffa84e" points="326.0,952.0 326.0,848.3 422.6,848.3 422.6,865.0 474.5,865.0 474.5,878.2 466.2,890.7 444.0,901.7 441.3,912.8 460.7,918.4 477.3,921.1 492.5,917.7 505.0,917.7 505.0,924.6 593.0,924.6 593.0,952.0" />
<polygon fill="#ffa84e" points="59.0,952.0 59.0,994.2 77.0,994.2 77.7,991.5 98.5,988.7 122.1,989.4 137.3,997.7 158.1,993.5 170.0,992.0 200.0,990.0 216.3,994.9 196.9,1006.0 180.2,1017.1 179.6,1028.2 191.3,1043.4 230.0,1047.6 240.4,1052.4 244.5,1062.8 240.4,1073.9 248.0,1080.1 257.7,1084.0 292.4,1091.9 326.0,1095.4 326.0,952.0" />
<polygon fill="#ffa84e" points="326.0,952.0 326.0,1095.4 359.6,1091.9 394.3,1084.0 404.0,1080.1 411.6,1073.9 407.5,1062.8 411.6,1052.4 422.0,1047.6 460.7,1043.4 472.4,1028.2 471.8,1017.1 455.1,1006.0 435.7,994.9 452.0,990.0 482.0,992.0 493.9,993.5 514.7,997.7 529.9,989.4 553.5,988.7 574.3,991.5 575.0,994.2 593.0,994.2 593.0,952.0" />
<polygon fill="#ffd44e" points="59.0,952.0 59.0,924.6 147.0,924.6 147.0,921.1 174.7,924.6 191.3,921.8 210.7,915.6 226.0,910.0 223.2,900.4 205.2,883.7 202.4,877.5 202.4,865.0 296.5,865.0 313.1,858.8 326.0,857.4 326.0,952.0" />
<polygon fill="#ffd44e" points="326.0,952.0 326.0,857.4 338.9,858.8 355.5,865.0 449.6,865.0 449.6,877.5 446.8,883.7 428.8,900.4 426.0,910.0 441.3,915.6 460.7,921.8 477.3,924.6 505.0,921.1 505.0,924.6 593.0,924.6 593.0,952.0" />
<polygon fill="#ffd44e" points="59.0,952.0 59.0,994.2 77.0,994.2 77.7,987.0 119.3,984.0 158.8,982.0 200.0,985.0 232.0,990.0 238.0,996.0 230.0,1001.9 216.3,1006.0 203.8,1017.1 206.6,1024.0 230.0,1040.7 250.0,1046.0 273.0,1052.4 286.8,1062.8 288.2,1073.9 302.0,1078.8 326.0,1081.5 326.0,952.0" />
<polygon fill="#ffd44e" points="326.0,952.0 326.0,1081.5 350.0,1078.8 363.8,1073.9 365.2,1062.8 379.0,1052.4 402.0,1046.0 422.0,1040.7 445.4,1024.0 448.2,1017.1 435.7,1006.0 422.0,1001.9 414.0,996.0 420.0,990.0 452.0,985.0 493.2,982.0 532.7,984.0 574.3,987.0 575.0,994.2 593.0,994.2 593.0,952.0" />
<polygon fill="#fffb55" points="59.0,952.0 59.0,924.6 124.8,924.6 174.7,928.0 191.3,926.0 215.0,920.0 245.2,910.0 243.9,901.7 230.0,892.0 228.7,879.6 257.7,877.5 257.7,865.0 326.0,865.0 326.0,952.0" />
<polygon fill="#fffb55" points="326.0,952.0 326.0,865.0 394.3,865.0 394.3,877.5 423.3,879.6 422.0,892.0 408.1,901.7 406.8,910.0 437.0,920.0 460.7,926.0 477.3,928.0 527.2,924.6 593.0,924.6 593.0,952.0" />
<polygon fill="#fffb55" points="59.0,952.0 59.0,994.2 77.0,994.2 77.7,982.1 111.0,978.6 158.8,976.6 200.0,982.0 230.0,990.0 246.6,993.5 242.5,1003.2 230.0,1011.6 227.0,1019.0 230.0,1024.0 246.6,1026.5 270.0,1038.0 300.0,1043.0 326.0,1045.0 326.0,952.0" />
<polygon fill="#fffb55" points="326.0,952.0 326.0,1045.0 352.0,1043.0 382.0,1038.0 405.4,1026.5 422.0,1024.0 425.0,1019.0 422.0,1011.6 409.5,1003.2 405.4,993.5 422.0,990.0 452.0,982.0 493.2,976.6 541.0,978.6 574.3,982.1 575.0,994.2 593.0,994.2 593.0,952.0" />
<polygon fill="#dcfb4e" points="59.0,952.0 59.0,924.6 98.5,924.6 115.0,931.0 124.8,934.0 160.8,933.6 230.0,929.3 250.0,924.0 261.9,910.0 263.3,901.7 254.2,890.0 256.3,877.5 290.0,871.0 326.0,869.0 326.0,952.0" />
<polygon fill="#dcfb4e" points="326.0,952.0 326.0,869.0 362.0,871.0 395.7,877.5 397.8,890.0 388.7,901.7 390.1,910.0 402.0,924.0 422.0,929.3 491.2,933.6 527.2,934.0 537.0,931.0 553.5,924.6 593.0,924.6 593.0,952.0" />
<polygon fill="#dcfb4e" points="59.0,952.0 59.0,962.7 77.7,973.1 111.0,971.0 158.8,974.5 230.0,980.0 255.0,988.0 265.3,993.5 263.9,1003.2 252.9,1017.1 261.9,1026.5 290.0,1033.0 326.0,1035.0 326.0,952.0" />
<polygon fill="#dcfb4e" points="326.0,952.0 326.0,1035.0 362.0,1033.0 390.1,1026.5 399.1,1017.1 388.1,1003.2 386.7,993.5 397.0,988.0 422.0,980.0 493.2,974.5 541.0,971.0 574.3,973.1 593.0,962.7 593.0,952.0" />
<polygon fill="#b3fb4e" points="72.9,952.0 72.9,943.3 88.8,933.6 111.0,939.1 160.8,940.5 230.0,935.0 250.0,930.0 270.0,920.0 282.7,910.0 285.4,901.7 279.2,890.0 284.0,877.5 326.0,877.5 326.0,952.0" />
<polygon fill="#b3fb4e" points="326.0,952.0 326.0,877.5 368.0,877.5 372.8,890.0 366.6,901.7 369.3,910.0 382.0,920.0 402.0,930.0 422.0,935.0 491.2,940.5 541.0,939.1 563.2,933.6 579.1,943.3 579.1,952.0" />
<polygon fill="#b3fb4e" points="72.9,952.0 72.9,960.0 91.6,971.0 158.8,969.6 230.0,972.0 270.0,982.0 291.0,993.5 292.4,1006.0 287.5,1017.1 296.5,1024.0 307.6,1026.5 326.0,1027.0 326.0,952.0" />
<polygon fill="#b3fb4e" points="326.0,952.0 326.0,1027.0 344.4,1026.5 355.5,1024.0 364.5,1017.1 359.6,1006.0 361.0,993.5 382.0,982.0 422.0,972.0 493.2,969.6 560.4,971.0 579.1,960.0 579.1,952.0" />
<polygon fill="#8afb4e" points="82.6,952.0 89.5,934.3 111.0,940.5 160.8,941.2 230.0,937.1 270.0,930.0 295.0,920.0 307.6,910.0 321.4,902.4 326.0,902.0 326.0,952.0" />
<polygon fill="#8afb4e" points="326.0,952.0 326.0,902.0 330.6,902.4 344.4,910.0 357.0,920.0 382.0,930.0 422.0,937.1 491.2,941.2 541.0,940.5 562.5,934.3 569.4,952.0" />
<polygon fill="#8afb4e" points="82.6,952.0 89.5,967.6 111.0,965.5 160.8,966.2 230.0,967.6 270.0,975.0 300.0,988.0 315.0,993.5 326.0,995.0 326.0,952.0" />
<polygon fill="#8afb4e" points="326.0,952.0 326.0,995.0 337.0,993.5 352.0,988.0 382.0,975.0 422.0,967.6 491.2,966.2 541.0,965.5 562.5,967.6 569.4,952.0" />
<polygon fill="#68fb4e" points="95.7,952.0 105.4,941.9 160.8,944.0 230.0,940.5 270.0,935.0 300.0,928.0 326.0,925.0 326.0,952.0" />
<polygon fill="#68fb4e" points="326.0,952.0 326.0,925.0 352.0,928.0 382.0,935.0 422.0,940.5 491.2,944.0 546.6,941.9 556.3,952.0" />
<polygon fill="#68fb4e" points="95.7,952.0 105.4,962.7 160.8,963.4 230.0,964.8 280.0,972.0 326.0,975.0 326.0,952.0" />
<polygon fill="#68fb4e" points="326.0,952.0 326.0,975.0 372.0,972.0 422.0,964.8 491.2,963.4 546.6,962.7 556.3,952.0" />
<polygon fill="#50fb50" points="110.0,952.0 112.4,948.2 160.8,947.5 230.0,945.5 271.6,937.1 326.0,935.6 326.0,952.0" />
<polygon fill="#50fb50" points="326.0,952.0 326.0,935.6 380.4,937.1 422.0,945.5 491.2,947.5 539.6,948.2 542.0,952.0" />
<polygon fill="#50fb50" points="110.0,952.0 117.2,959.2 160.8,960.6 230.0,962.0 278.5,966.9 326.0,967.0 326.0,952.0" />
<polygon fill="#50fb50" points="326.0,952.0 326.0,967.0 373.5,966.9 422.0,962.0 491.2,960.6 534.8,959.2 542.0,952.0" />
<polygon fill="#808080" points="554.1,913.5 584.9,913.5 584.9,919.7 554.1,919.7" />
<polygon fill="#ffa84e" points="554.1,919.7 566.0,921.5 584.9,919.7 584.9,922.5 554.1,922.5" />
<polygon fill="#fffb55" points="554.1,922.0 584.9,922.0 584.9,925.0 554.1,925.0" />
<polygon fill="#b3fb4e" points="525.0,935.0 560.0,931.0 584.9,931.0 584.9,966.0 560.0,968.0 525.0,966.0" />
<polygon fill="#8afb4e" points="525.0,937.0 560.0,935.0 584.9,935.0 584.9,962.0 560.0,963.0 525.0,964.0" />
<polygon fill="#68fb4e" points="500.0,942.0 540.0,944.0 540.0,960.0 500.0,962.0" />
<polygon fill="#50fb50" points="500.0,945.0 532.0,948.5 532.0,958.0 500.0,960.0" />
<polygon fill="#ffd44e" points="526.3,976.2 554.0,975.1 584.9,974.2 584.9,977.0 572.4,979.3 554.0,978.5 526.3,979.3" />
<polygon fill="#ffa84e" points="526.3,979.3 554.0,978.5 572.4,979.3 572.4,982.3 555.5,980.8 526.3,980.8" />
<polygon fill="#808080" points="435.4,993.9 450.8,987.7 460.0,984.6 473.9,986.2 490.8,982.3 526.3,980.8 555.5,980.8 555.5,993.9" />
<polygon fill="#9e9e9e" points="526.3,982.3 536.3,982.3 536.3,993.9 526.3,993.9" />
<polygon fill="#ffa84e" points="555.5,980.8 572.4,982.3 572.4,993.9 555.5,993.9" />
<polygon fill="#ffd44e" points="572.4,977.0 584.9,976.2 584.9,993.9 572.4,993.9" />
</g>
<polygon fill="#808080" points="493.0,993.4 531.0,993.4 514.7,998.6" />
<polygon fill="#808080" points="230.0,848.4 284.0,848.4 283.3,856.0 257.7,863.6 249.4,864.3 230.0,860.2" />
<polygon fill="#9e9e9e" points="230.0,848.4 256.3,848.4 256.3,853.2 250.8,856.0 230.0,857.4" />
<polygon fill="#808080" points="367.2,848.4 410.0,848.4 410.0,864.3 403.2,864.3 368.6,856.0" />
<polygon fill="#808080" points="410.0,848.4 426.6,848.4 426.6,860.9 410.0,860.9" />
<polygon fill="#9e9e9e" points="396.3,848.4 410.0,848.4 410.0,857.4 399.0,854.6" />
<polygon fill="#9e9e9e" points="410.0,848.4 426.6,848.4 426.6,857.4 410.0,857.4" />
</g>
<rect x="124.6" y="865.0" width="401.2" height="12.5" fill="rgba(64,64,64,0.37)"/>
<path d="M124.6 865.0H525.8 M124.6 877.5H525.8" stroke="#383838" stroke-width="1.2" stroke-dasharray="3.4 1.6" fill="none"/>
<path d="M124.6 865.0V877.5M158.0 865.0V877.5M191.5 865.0V877.5M224.9 865.0V877.5M258.3 865.0V877.5M291.8 865.0V877.5M325.2 865.0V877.5M358.6 865.0V877.5M392.0 865.0V877.5M425.5 865.0V877.5M458.9 865.0V877.5M492.3 865.0V877.5M525.8 865.0V877.5" stroke="#38a04a" stroke-width="2.0" stroke-dasharray="4.4 0.8" fill="none"/>
<path d="M124.6 865.0V877.5M158.0 865.0V877.5M191.5 865.0V877.5M224.9 865.0V877.5M258.3 865.0V877.5M291.8 865.0V877.5M325.2 865.0V877.5M358.6 865.0V877.5M392.0 865.0V877.5M425.5 865.0V877.5M458.9 865.0V877.5M492.3 865.0V877.5M525.8 865.0V877.5" stroke="#2b332d" stroke-width="1.5" stroke-dasharray="4 1.8" fill="none"/>
<rect x="124.6" y="910.1" width="401.2" height="24.9" fill="rgba(64,64,64,0.37)"/>
<path d="M124.6 910.1H525.8 M124.6 935.0H525.8" stroke="#383838" stroke-width="1.2" stroke-dasharray="3.4 1.6" fill="none"/>
<path d="M124.6 922.5H525.8" stroke="#36a04a" stroke-width="1.5" stroke-dasharray="3.4 1.2" fill="none"/>
<path d="M124.6 922.5H525.8" stroke="#33443a" stroke-width="0.9" stroke-dasharray="2.4 2.2" fill="none"/>
<path d="M124.6 910.1V935.0M158.0 910.1V935.0M191.5 910.1V935.0M224.9 910.1V935.0M258.3 910.1V935.0M291.8 910.1V935.0M325.2 910.1V935.0M358.6 910.1V935.0M392.0 910.1V935.0M425.5 910.1V935.0M458.9 910.1V935.0M492.3 910.1V935.0M525.8 910.1V935.0" stroke="#38a04a" stroke-width="2.0" stroke-dasharray="4.4 0.8" fill="none"/>
<path d="M124.6 910.1V935.0M158.0 910.1V935.0M191.5 910.1V935.0M224.9 910.1V935.0M258.3 910.1V935.0M291.8 910.1V935.0M325.2 910.1V935.0M358.6 910.1V935.0M392.0 910.1V935.0M425.5 910.1V935.0M458.9 910.1V935.0M492.3 910.1V935.0M525.8 910.1V935.0" stroke="#2b332d" stroke-width="1.5" stroke-dasharray="4 1.8" fill="none"/>
<rect x="158.0" y="968.2" width="367.7" height="25.3" fill="rgba(64,64,64,0.37)"/>
<path d="M158.0 968.2H525.8 M158.0 993.5H525.8" stroke="#383838" stroke-width="1.2" stroke-dasharray="3.4 1.6" fill="none"/>
<path d="M158.0 980.7H525.8" stroke="#36a04a" stroke-width="1.5" stroke-dasharray="3.4 1.2" fill="none"/>
<path d="M158.0 980.7H525.8" stroke="#33443a" stroke-width="0.9" stroke-dasharray="2.4 2.2" fill="none"/>
<path d="M158.0 968.2V993.5M191.5 968.2V993.5M224.9 968.2V993.5M258.3 968.2V993.5M291.8 968.2V993.5M325.2 968.2V993.5M358.6 968.2V993.5M392.0 968.2V993.5M425.5 968.2V993.5M458.9 968.2V993.5M492.3 968.2V993.5M525.8 968.2V993.5" stroke="#38a04a" stroke-width="2.0" stroke-dasharray="4.4 0.8" fill="none"/>
<path d="M158.0 968.2V993.5M191.5 968.2V993.5M224.9 968.2V993.5M258.3 968.2V993.5M291.8 968.2V993.5M325.2 968.2V993.5M358.6 968.2V993.5M392.0 968.2V993.5M425.5 968.2V993.5M458.9 968.2V993.5M492.3 968.2V993.5M525.8 968.2V993.5" stroke="#2b332d" stroke-width="1.5" stroke-dasharray="4 1.8" fill="none"/>
<rect x="124.6" y="1026.5" width="367.7" height="25.9" fill="rgba(64,64,64,0.37)"/>
<path d="M124.6 1026.5H492.3 M124.6 1052.4H492.3" stroke="#383838" stroke-width="1.2" stroke-dasharray="3.4 1.6" fill="none"/>
<path d="M124.6 1039.3H492.3" stroke="#36a04a" stroke-width="1.5" stroke-dasharray="3.4 1.2" fill="none"/>
<path d="M124.6 1039.3H492.3" stroke="#33443a" stroke-width="0.9" stroke-dasharray="2.4 2.2" fill="none"/>
<path d="M124.6 1026.5V1052.4M158.0 1026.5V1052.4M191.5 1026.5V1052.4M224.9 1026.5V1052.4M258.3 1026.5V1052.4M291.8 1026.5V1052.4M325.2 1026.5V1052.4M358.6 1026.5V1052.4M392.0 1026.5V1052.4M425.5 1026.5V1052.4M458.9 1026.5V1052.4M492.3 1026.5V1052.4" stroke="#38a04a" stroke-width="2.0" stroke-dasharray="4.4 0.8" fill="none"/>
<path d="M124.6 1026.5V1052.4M158.0 1026.5V1052.4M191.5 1026.5V1052.4M224.9 1026.5V1052.4M258.3 1026.5V1052.4M291.8 1026.5V1052.4M325.2 1026.5V1052.4M358.6 1026.5V1052.4M392.0 1026.5V1052.4M425.5 1026.5V1052.4M458.9 1026.5V1052.4M492.3 1026.5V1052.4" stroke="#2b332d" stroke-width="1.5" stroke-dasharray="4 1.8" fill="none"/>
<rect x="124.6" y="1084.0" width="401.2" height="25.9" fill="rgba(64,64,64,0.37)"/>
<path d="M124.6 1084.0H525.8 M124.6 1109.9H525.8" stroke="#383838" stroke-width="1.2" stroke-dasharray="3.4 1.6" fill="none"/>
<path d="M124.6 1096.8H525.8" stroke="#36a04a" stroke-width="1.5" stroke-dasharray="3.4 1.2" fill="none"/>
<path d="M124.6 1096.8H525.8" stroke="#33443a" stroke-width="0.9" stroke-dasharray="2.4 2.2" fill="none"/>
<path d="M124.6 1084.0V1109.9M158.0 1084.0V1109.9M191.5 1084.0V1109.9M224.9 1084.0V1109.9M258.3 1084.0V1109.9M291.8 1084.0V1109.9M325.2 1084.0V1109.9M358.6 1084.0V1109.9M392.0 1084.0V1109.9M425.5 1084.0V1109.9M458.9 1084.0V1109.9M492.3 1084.0V1109.9M525.8 1084.0V1109.9" stroke="#38a04a" stroke-width="2.0" stroke-dasharray="4.4 0.8" fill="none"/>
<path d="M124.6 1084.0V1109.9M158.0 1084.0V1109.9M191.5 1084.0V1109.9M224.9 1084.0V1109.9M258.3 1084.0V1109.9M291.8 1084.0V1109.9M325.2 1084.0V1109.9M358.6 1084.0V1109.9M392.0 1084.0V1109.9M425.5 1084.0V1109.9M458.9 1084.0V1109.9M492.3 1084.0V1109.9M525.8 1084.0V1109.9" stroke="#2b332d" stroke-width="1.5" stroke-dasharray="4 1.8" fill="none"/>
<line x1="77.0" y1="864.6" x2="572.0" y2="864.6" stroke="#333" stroke-width="1.30"/>
<line x1="77.3" y1="864.5" x2="77.3" y2="1113.4" stroke="#333" stroke-width="1.30"/>
<line x1="229.4" y1="848.0" x2="229.4" y2="864.5" stroke="#777" stroke-width="0.80"/>
<circle cx="326.0" cy="951.9" r="6" fill="#ff0000"/>
<g>
<polygon fill="#9e9e9e" points="800.6,867.1 831.1,867.1 831.1,878.2 836.6,889.3 852.6,901.7 851.9,910.0 824.2,911.4 813.1,901.0 800.6,901.0" />
<polygon fill="#9e9e9e" points="1159.2,901.0 1146.7,901.0 1135.6,911.4 1107.9,910.0 1107.2,901.7 1123.2,889.3 1128.7,878.2 1128.7,867.1 1159.2,867.1" />
<polygon fill="#9e9e9e" points="731.3,993.8 757.0,993.8 754.9,1005.3 731.3,1005.3" />
<polygon fill="#808080" points="789.5,988.0 885.0,988.0 885.0,1052.4 835.2,1051.7 824.2,1038.6 801.3,1038.6 801.3,1017.8 813.1,1017.8 824.2,1006.0 813.1,993.8 789.5,993.8" />
<polygon fill="#808080" points="860.2,1084.0 885.0,1084.0 885.0,1097.5 860.2,1097.5" />
<polygon fill="#9e9e9e" points="843.6,993.8 869.9,993.8 863.0,1001.9 850.5,1008.8 835.2,1025.4 831.1,1026.5 801.3,1026.5 801.3,1017.8 813.1,1017.8 824.2,1006.0 835.2,1001.9" />
<polygon fill="#9e9e9e" points="835.2,1051.7 885.0,1052.4 885.0,1084.0 860.2,1084.0 860.2,1075.3 870.6,1063.5 861.6,1052.4" />
<polygon fill="#9e9e9e" points="813.1,1039.3 824.2,1039.3 835.2,1051.7 813.1,1051.7" />
<polygon fill="#808080" points="885.0,988.0 1065.0,988.0 1065.0,1109.9 885.0,1109.9" />
<polygon fill="#9e9e9e" points="885.0,1052.4 900.9,1052.4 903.0,1063.5 898.9,1075.3 905.8,1084.0 885.0,1084.0" />
<polygon fill="#9e9e9e" points="1065.0,1052.4 1060.3,1052.4 1057.5,1063.5 1061.7,1075.3 1056.8,1084.0 1065.0,1084.0" />
<polygon fill="#9e9e9e" points="885.0,1101.6 891.9,1109.9 885.0,1109.9" />
<polygon fill="#9e9e9e" points="1065.0,993.8 1149.5,993.8 1138.4,1006.0 1149.5,1017.8 1161.3,1017.8 1173.1,1028.9 1184.9,1028.9 1195.9,1040.7 1207.7,1040.7 1207.7,1063.5 1184.9,1063.5 1173.1,1052.4 1161.3,1052.4 1149.5,1040.7 1146.1,1040.7 1146.1,1026.5 1131.5,1015.7 1112.1,1008.8 1089.9,993.8" />
<polygon fill="#9e9e9e" points="1065.0,1052.4 1102.4,1052.4 1092.0,1063.5 1103.1,1075.3 1103.1,1097.5 1110.7,1097.5 1110.7,1084.0 1065.0,1084.0" />
<polygon fill="#808080" points="1065.0,993.8 1089.9,993.8 1112.1,1008.8 1131.5,1015.7 1146.1,1026.5 1146.1,1040.7 1132.9,1049.0 1126.0,1052.4 1065.0,1052.4" />
<polygon fill="#808080" points="1065.0,1084.0 1102.4,1084.0 1102.4,1097.5 1078.9,1097.5 1070.5,1109.9 1065.0,1109.9" />
<polygon fill="#808080" points="1120.4,993.8 1138.4,993.8 1126.0,1000.5" />
<clipPath id="clipb"><rect x="713.2" y="840" width="524.7" height="300"/></clipPath>
<g clip-path="url(#clipb)">
<polygon fill="#808080" points="712.6,952.0 712.6,924.6 824.2,924.6 824.2,911.4 851.9,910.0 852.6,901.7 836.6,889.3 831.1,878.2 831.1,865.0 905.8,865.0 905.8,848.3 979.9,848.3 979.9,952.0" />
<polygon fill="#808080" points="979.9,952.0 979.9,848.3 1054.0,848.3 1054.0,865.0 1128.7,865.0 1128.7,878.2 1123.2,889.3 1107.2,901.7 1107.9,910.0 1135.6,911.4 1135.6,924.6 1247.2,924.6 1247.2,952.0" />
<polygon fill="#ffa84e" points="712.6,952.0 712.6,924.6 824.2,924.6 824.2,917.7 836.6,921.1 843.6,918.4 878.2,915.6 883.1,910.0 881.0,900.4 863.0,889.3 857.4,878.2 856.7,865.0 940.4,865.0 962.6,858.8 975.1,857.4 979.9,857.4 979.9,952.0" />
<polygon fill="#ffa84e" points="979.9,952.0 979.9,857.4 984.7,857.4 997.2,858.8 1019.4,865.0 1103.1,865.0 1102.4,878.2 1096.8,889.3 1078.8,900.4 1076.7,910.0 1081.6,915.6 1116.2,918.4 1123.2,921.1 1135.6,917.7 1135.6,924.6 1247.2,924.6 1247.2,952.0" />
<polygon fill="#ffa84e" points="712.6,952.0 712.6,993.8 789.5,993.8 798.6,989.0 813.1,988.0 885.0,988.0 893.6,993.5 885.0,1001.9 867.1,1017.8 871.3,1028.2 885.0,1033.7 903.6,1042.0 926.6,1052.4 934.2,1063.5 934.2,1073.9 943.2,1079.5 951.5,1084.0 979.9,1084.0 979.9,952.0" />
<polygon fill="#ffa84e" points="979.9,952.0 979.9,1084.0 1008.3,1084.0 1016.6,1079.5 1025.6,1073.9 1025.6,1063.5 1033.2,1052.4 1056.2,1042.0 1074.8,1033.7 1088.5,1028.2 1092.7,1017.8 1074.8,1001.9 1066.2,993.5 1074.8,988.0 1146.7,988.0 1161.2,989.0 1170.3,993.8 1247.2,993.8 1247.2,952.0" />
<polygon fill="#ffd44e" points="712.6,952.0 712.6,924.6 803.6,924.6 836.6,926.0 878.2,921.0 900.2,910.0 901.6,901.7 885.0,892.7 885.0,877.5 898.6,877.5 898.6,865.0 979.9,865.0 979.9,952.0" />
<polygon fill="#ffd44e" points="979.9,952.0 979.9,865.0 1061.2,865.0 1061.2,877.5 1074.8,877.5 1074.8,892.7 1058.2,901.7 1059.6,910.0 1081.6,921.0 1123.2,926.0 1156.2,924.6 1247.2,924.6 1247.2,952.0" />
<polygon fill="#ffd44e" points="712.6,952.0 712.6,993.8 771.5,993.8 778.6,985.0 813.1,981.0 885.0,985.0 898.6,990.0 907.2,993.5 903.0,1003.2 891.9,1017.1 900.2,1026.5 923.6,1038.0 953.6,1043.0 979.9,1045.0 979.9,952.0" />
<polygon fill="#ffd44e" points="979.9,952.0 979.9,1045.0 1006.2,1043.0 1036.2,1038.0 1059.6,1026.5 1067.9,1017.1 1056.8,1003.2 1052.6,993.5 1061.2,990.0 1074.8,985.0 1146.7,981.0 1181.2,985.0 1188.3,993.8 1247.2,993.8 1247.2,952.0" />
<polygon fill="#fffb55" points="712.6,952.0 712.6,924.6 764.5,924.6 778.4,929.0 836.6,931.0 883.6,928.0 908.6,920.0 922.4,910.0 924.5,901.7 914.1,890.0 914.8,877.5 938.6,871.0 979.9,869.0 979.9,952.0" />
<polygon fill="#fffb55" points="979.9,952.0 979.9,869.0 1021.2,871.0 1045.0,877.5 1045.7,890.0 1035.3,901.7 1037.4,910.0 1051.2,920.0 1076.2,928.0 1123.2,931.0 1181.4,929.0 1195.3,924.6 1247.2,924.6 1247.2,952.0" />
<polygon fill="#fffb55" points="712.6,952.0 712.6,962.7 725.6,970.0 760.4,978.0 813.1,974.5 885.0,978.0 908.6,988.0 926.6,993.5 923.1,1006.0 917.6,1017.1 926.6,1026.5 953.6,1033.0 979.9,1035.0 979.9,952.0" />
<polygon fill="#fffb55" points="979.9,952.0 979.9,1035.0 1006.2,1033.0 1033.2,1026.5 1042.2,1017.1 1036.7,1006.0 1033.2,993.5 1051.2,988.0 1074.8,978.0 1146.7,974.5 1199.4,978.0 1234.2,970.0 1247.2,962.7 1247.2,952.0" />
<polygon fill="#dcfb4e" points="732.6,952.0 732.7,933.6 743.6,924.6 753.6,924.6 763.6,930.0 778.4,934.0 836.6,936.0 883.6,933.0 918.6,925.0 947.4,910.0 950.1,901.7 942.5,890.0 946.0,877.5 979.9,877.5 979.9,952.0" />
<polygon fill="#dcfb4e" points="979.9,952.0 979.9,877.5 1013.8,877.5 1017.3,890.0 1009.7,901.7 1012.4,910.0 1041.2,925.0 1076.2,933.0 1123.2,936.0 1181.4,934.0 1196.2,930.0 1206.2,924.6 1216.2,924.6 1227.1,933.6 1227.2,952.0" />
<polygon fill="#dcfb4e" points="732.6,952.0 732.7,962.7 760.4,971.0 813.1,969.0 885.0,972.0 918.6,982.0 946.7,993.5 946.0,1006.0 941.8,1017.1 950.1,1024.0 962.6,1026.5 979.9,1027.0 979.9,952.0" />
<polygon fill="#dcfb4e" points="979.9,952.0 979.9,1027.0 997.2,1026.5 1009.7,1024.0 1018.0,1017.1 1013.8,1006.0 1013.1,993.5 1041.2,982.0 1074.8,972.0 1146.7,969.0 1199.4,971.0 1227.1,962.7 1227.2,952.0" />
<polygon fill="#b3fb4e" points="739.6,952.0 739.6,948.8 743.8,939.8 788.1,943.3 885.0,936.4 923.6,930.0 953.6,920.0 979.9,915.0 979.9,952.0" />
<polygon fill="#b3fb4e" points="979.9,952.0 979.9,915.0 1006.2,920.0 1036.2,930.0 1074.8,936.4 1171.7,943.3 1216.0,939.8 1220.2,948.8 1220.2,952.0" />
<polygon fill="#b3fb4e" points="739.6,952.0 743.8,966.2 802.0,964.8 885.0,966.2 923.6,978.0 953.6,988.0 973.6,993.5 979.9,994.0 979.9,952.0" />
<polygon fill="#b3fb4e" points="979.9,952.0 979.9,994.0 986.2,993.5 1006.2,988.0 1036.2,978.0 1074.8,966.2 1157.8,964.8 1216.0,966.2 1220.2,952.0" />
<polygon fill="#8afb4e" points="793.6,952.0 800.6,947.5 885.0,939.2 923.6,935.0 953.6,928.0 979.9,925.0 979.9,952.0" />
<polygon fill="#8afb4e" points="979.9,952.0 979.9,925.0 1006.2,928.0 1036.2,935.0 1074.8,939.2 1159.2,947.5 1166.2,952.0" />
<polygon fill="#8afb4e" points="793.6,952.0 793.7,958.5 885.0,962.7 923.6,972.0 953.6,976.0 979.9,978.0 979.9,952.0" />
<polygon fill="#8afb4e" points="979.9,952.0 979.9,978.0 1006.2,976.0 1036.2,972.0 1074.8,962.7 1166.1,958.5 1166.2,952.0" />
<polygon fill="#68fb4e" points="881.6,952.0 885.0,947.5 930.7,937.1 979.9,937.1 979.9,952.0" />
<polygon fill="#68fb4e" points="979.9,952.0 979.9,937.1 1029.1,937.1 1074.8,947.5 1078.2,952.0" />
<polygon fill="#68fb4e" points="881.6,952.0 885.0,958.0 930.7,966.2 979.9,966.2 979.9,952.0" />
<polygon fill="#68fb4e" points="979.9,952.0 979.9,966.2 1029.1,966.2 1074.8,958.0 1078.2,952.0" />
<polygon fill="#808080" points="1231.3,913.5 1237.9,913.5 1237.9,919.0 1231.3,919.0" />
<polygon fill="#ffa84e" points="1231.3,919.0 1237.9,919.0 1237.9,924.6 1231.3,924.6" />
<polygon fill="#dcfb4e" points="1183.6,932.0 1213.6,928.0 1237.9,928.0 1237.9,970.0 1213.6,970.0 1183.6,968.0" />
<polygon fill="#b3fb4e" points="1173.6,938.0 1213.6,934.0 1237.9,934.0 1237.9,964.0 1213.6,965.0 1173.6,965.0" />
<polygon fill="#808080" points="1178.6,980.7 1227.1,980.7 1229.2,993.8 1178.6,993.8" />
<polygon fill="#9e9e9e" points="1178.6,987.0 1211.9,986.0 1211.9,993.8 1178.6,993.8" />
<polygon fill="#808080" points="1071,993.8 1081,989 1096,986.4 1146.4,981.4 1179,980.1 1179,993.8" />
</g>
<polygon fill="#808080" points="905.8,848.4 1056.8,848.4 1056.8,862.2 1041.6,864.3 1023.6,864.3 995.8,858.8 975.1,857.4 962.6,858.8 940.4,864.3 922.4,864.3 905.8,861.6" />
<polygon fill="#9e9e9e" points="905.8,848.4 940.4,848.4 939.7,854.6 926.6,858.8 905.8,858.8" />
<polygon fill="#9e9e9e" points="1022.2,848.4 1056.8,848.4 1056.8,858.8 1037.4,858.8 1023.6,854.6" />
</g>
<rect x="778.2" y="865.0" width="401.2" height="12.5" fill="rgba(64,64,64,0.37)"/>
<path d="M778.2 865.0H1179.4 M778.2 877.5H1179.4" stroke="#383838" stroke-width="1.2" stroke-dasharray="3.4 1.6" fill="none"/>
<path d="M778.2 865.0V877.5M811.6 865.0V877.5M845.1 865.0V877.5M878.5 865.0V877.5M911.9 865.0V877.5M945.4 865.0V877.5M978.8 865.0V877.5M1012.2 865.0V877.5M1045.6 865.0V877.5M1079.1 865.0V877.5M1112.5 865.0V877.5M1145.9 865.0V877.5M1179.4 865.0V877.5" stroke="#38a04a" stroke-width="2.0" stroke-dasharray="4.4 0.8" fill="none"/>
<path d="M778.2 865.0V877.5M811.6 865.0V877.5M845.1 865.0V877.5M878.5 865.0V877.5M911.9 865.0V877.5M945.4 865.0V877.5M978.8 865.0V877.5M1012.2 865.0V877.5M1045.6 865.0V877.5M1079.1 865.0V877.5M1112.5 865.0V877.5M1145.9 865.0V877.5M1179.4 865.0V877.5" stroke="#2b332d" stroke-width="1.5" stroke-dasharray="4 1.8" fill="none"/>
<rect x="778.2" y="910.1" width="401.2" height="24.9" fill="rgba(64,64,64,0.37)"/>
<path d="M778.2 910.1H1179.4 M778.2 935.0H1179.4" stroke="#383838" stroke-width="1.2" stroke-dasharray="3.4 1.6" fill="none"/>
<path d="M778.2 922.5H1179.4" stroke="#36a04a" stroke-width="1.5" stroke-dasharray="3.4 1.2" fill="none"/>
<path d="M778.2 922.5H1179.4" stroke="#33443a" stroke-width="0.9" stroke-dasharray="2.4 2.2" fill="none"/>
<path d="M778.2 910.1V935.0M811.6 910.1V935.0M845.1 910.1V935.0M878.5 910.1V935.0M911.9 910.1V935.0M945.4 910.1V935.0M978.8 910.1V935.0M1012.2 910.1V935.0M1045.6 910.1V935.0M1079.1 910.1V935.0M1112.5 910.1V935.0M1145.9 910.1V935.0M1179.4 910.1V935.0" stroke="#38a04a" stroke-width="2.0" stroke-dasharray="4.4 0.8" fill="none"/>
<path d="M778.2 910.1V935.0M811.6 910.1V935.0M845.1 910.1V935.0M878.5 910.1V935.0M911.9 910.1V935.0M945.4 910.1V935.0M978.8 910.1V935.0M1012.2 910.1V935.0M1045.6 910.1V935.0M1079.1 910.1V935.0M1112.5 910.1V935.0M1145.9 910.1V935.0M1179.4 910.1V935.0" stroke="#2b332d" stroke-width="1.5" stroke-dasharray="4 1.8" fill="none"/>
<rect x="811.6" y="968.2" width="367.7" height="25.3" fill="rgba(64,64,64,0.37)"/>
<path d="M811.6 968.2H1179.4 M811.6 993.5H1179.4" stroke="#383838" stroke-width="1.2" stroke-dasharray="3.4 1.6" fill="none"/>
<path d="M811.6 980.7H1179.4" stroke="#36a04a" stroke-width="1.5" stroke-dasharray="3.4 1.2" fill="none"/>
<path d="M811.6 980.7H1179.4" stroke="#33443a" stroke-width="0.9" stroke-dasharray="2.4 2.2" fill="none"/>
<path d="M811.6 968.2V993.5M845.1 968.2V993.5M878.5 968.2V993.5M911.9 968.2V993.5M945.4 968.2V993.5M978.8 968.2V993.5M1012.2 968.2V993.5M1045.6 968.2V993.5M1079.1 968.2V993.5M1112.5 968.2V993.5M1145.9 968.2V993.5M1179.4 968.2V993.5" stroke="#38a04a" stroke-width="2.0" stroke-dasharray="4.4 0.8" fill="none"/>
<path d="M811.6 968.2V993.5M845.1 968.2V993.5M878.5 968.2V993.5M911.9 968.2V993.5M945.4 968.2V993.5M978.8 968.2V993.5M1012.2 968.2V993.5M1045.6 968.2V993.5M1079.1 968.2V993.5M1112.5 968.2V993.5M1145.9 968.2V993.5M1179.4 968.2V993.5" stroke="#2b332d" stroke-width="1.5" stroke-dasharray="4 1.8" fill="none"/>
<rect x="778.2" y="1026.5" width="367.7" height="25.9" fill="rgba(64,64,64,0.37)"/>
<path d="M778.2 1026.5H1145.9 M778.2 1052.4H1145.9" stroke="#383838" stroke-width="1.2" stroke-dasharray="3.4 1.6" fill="none"/>
<path d="M778.2 1039.3H1145.9" stroke="#36a04a" stroke-width="1.5" stroke-dasharray="3.4 1.2" fill="none"/>
<path d="M778.2 1039.3H1145.9" stroke="#33443a" stroke-width="0.9" stroke-dasharray="2.4 2.2" fill="none"/>
<path d="M778.2 1026.5V1052.4M811.6 1026.5V1052.4M845.1 1026.5V1052.4M878.5 1026.5V1052.4M911.9 1026.5V1052.4M945.4 1026.5V1052.4M978.8 1026.5V1052.4M1012.2 1026.5V1052.4M1045.6 1026.5V1052.4M1079.1 1026.5V1052.4M1112.5 1026.5V1052.4M1145.9 1026.5V1052.4" stroke="#38a04a" stroke-width="2.0" stroke-dasharray="4.4 0.8" fill="none"/>
<path d="M778.2 1026.5V1052.4M811.6 1026.5V1052.4M845.1 1026.5V1052.4M878.5 1026.5V1052.4M911.9 1026.5V1052.4M945.4 1026.5V1052.4M978.8 1026.5V1052.4M1012.2 1026.5V1052.4M1045.6 1026.5V1052.4M1079.1 1026.5V1052.4M1112.5 1026.5V1052.4M1145.9 1026.5V1052.4" stroke="#2b332d" stroke-width="1.5" stroke-dasharray="4 1.8" fill="none"/>
<rect x="778.2" y="1084.0" width="401.2" height="25.9" fill="rgba(64,64,64,0.37)"/>
<path d="M778.2 1084.0H1179.4 M778.2 1109.9H1179.4" stroke="#383838" stroke-width="1.2" stroke-dasharray="3.4 1.6" fill="none"/>
<path d="M778.2 1096.8H1179.4" stroke="#36a04a" stroke-width="1.5" stroke-dasharray="3.4 1.2" fill="none"/>
<path d="M778.2 1096.8H1179.4" stroke="#33443a" stroke-width="0.9" stroke-dasharray="2.4 2.2" fill="none"/>
<path d="M778.2 1084.0V1109.9M811.6 1084.0V1109.9M845.1 1084.0V1109.9M878.5 1084.0V1109.9M911.9 1084.0V1109.9M945.4 1084.0V1109.9M978.8 1084.0V1109.9M1012.2 1084.0V1109.9M1045.6 1084.0V1109.9M1079.1 1084.0V1109.9M1112.5 1084.0V1109.9M1145.9 1084.0V1109.9M1179.4 1084.0V1109.9" stroke="#38a04a" stroke-width="2.0" stroke-dasharray="4.4 0.8" fill="none"/>
<path d="M778.2 1084.0V1109.9M811.6 1084.0V1109.9M845.1 1084.0V1109.9M878.5 1084.0V1109.9M911.9 1084.0V1109.9M945.4 1084.0V1109.9M978.8 1084.0V1109.9M1012.2 1084.0V1109.9M1045.6 1084.0V1109.9M1079.1 1084.0V1109.9M1112.5 1084.0V1109.9M1145.9 1084.0V1109.9M1179.4 1084.0V1109.9" stroke="#2b332d" stroke-width="1.5" stroke-dasharray="4 1.8" fill="none"/>
<line x1="730.6" y1="864.6" x2="1225.6" y2="864.6" stroke="#333" stroke-width="1.30"/>
<line x1="730.9" y1="864.5" x2="730.9" y2="1113.4" stroke="#333" stroke-width="1.30"/>
<circle cx="979.9" cy="952.3" r="6" fill="#ff0000"/>
<text x="322.0" y="93.0" font-size="14.5" font-weight="bold" fill="#0b1f5e" text-anchor="middle" textLength="63" lengthAdjust="spacingAndGlyphs">30 Meter</text>
<text x="974.0" y="93.0" font-size="14.5" font-weight="bold" fill="#0b1f5e" text-anchor="middle" textLength="63" lengthAdjust="spacingAndGlyphs">30 Meter</text>
<text x="322.0" y="466.0" font-size="14.5" font-weight="bold" fill="#0b1f5e" text-anchor="middle" textLength="63" lengthAdjust="spacingAndGlyphs">30 Meter</text>
<text x="974.0" y="466.0" font-size="14.5" font-weight="bold" fill="#0b1f5e" text-anchor="middle" textLength="63" lengthAdjust="spacingAndGlyphs">30 Meter</text>
<text x="322.0" y="840.0" font-size="14.5" font-weight="bold" fill="#0b1f5e" text-anchor="middle" textLength="63" lengthAdjust="spacingAndGlyphs">60 Meter</text>
<text x="974.0" y="840.0" font-size="14.5" font-weight="bold" fill="#0b1f5e" text-anchor="middle" textLength="63" lengthAdjust="spacingAndGlyphs">60 Meter</text>
<line x1="87.0" y1="112.0" x2="570.0" y2="112.0" stroke="#0b1f5e" stroke-width="3.0"/><polygon fill="#0b1f5e" points="80.0,112.0 88.0,107.9 88.0,116.1"/><polygon fill="#0b1f5e" points="577.0,112.0 569.0,107.9 569.0,116.1"/>
<line x1="65.6" y1="130.0" x2="65.6" y2="361.0" stroke="#0b1f5e" stroke-width="3.0"/><polygon fill="#0b1f5e" points="65.6,123.0 61.5,131.0 69.7,131.0"/><polygon fill="#0b1f5e" points="65.6,368.0 61.5,360.0 69.7,360.0"/>
<line x1="739.7" y1="112.1" x2="1221.5" y2="112.1" stroke="#0b1f5e" stroke-width="3.0"/><polygon fill="#0b1f5e" points="732.7,112.1 740.7,108.0 740.7,116.2"/><polygon fill="#0b1f5e" points="1228.5,112.1 1220.5,108.0 1220.5,116.2"/>
<line x1="722.3" y1="130.6" x2="722.3" y2="359.7" stroke="#0b1f5e" stroke-width="3.0"/><polygon fill="#0b1f5e" points="722.3,123.6 718.2,131.6 726.4,131.6"/><polygon fill="#0b1f5e" points="722.3,366.7 718.2,358.7 726.4,358.7"/>
<text transform="translate(700.0,248.5) rotate(-90)" x="0" y="0" font-size="14.5" font-weight="bold" fill="#0b1f5e" text-anchor="middle" textLength="63" lengthAdjust="spacingAndGlyphs">15 Meter</text>
<line x1="86.8" y1="483.0" x2="569.3" y2="483.0" stroke="#0b1f5e" stroke-width="3.0"/><polygon fill="#0b1f5e" points="79.8,483.0 87.8,478.9 87.8,487.1"/><polygon fill="#0b1f5e" points="576.3,483.0 568.3,478.9 568.3,487.1"/>
<line x1="65.9" y1="501.1" x2="65.9" y2="731.3" stroke="#0b1f5e" stroke-width="3.0"/><polygon fill="#0b1f5e" points="65.9,494.1 61.8,502.1 70.0,502.1"/><polygon fill="#0b1f5e" points="65.9,738.3 61.8,730.3 70.0,730.3"/>
<text transform="translate(48.0,621.0) rotate(-90)" x="0" y="0" font-size="14.5" font-weight="bold" fill="#0b1f5e" text-anchor="middle" textLength="63" lengthAdjust="spacingAndGlyphs">15 Meter</text>
<line x1="739.7" y1="483.2" x2="1221.5" y2="483.2" stroke="#0b1f5e" stroke-width="3.0"/><polygon fill="#0b1f5e" points="732.7,483.2 740.7,479.1 740.7,487.3"/><polygon fill="#0b1f5e" points="1228.5,483.2 1220.5,479.1 1220.5,487.3"/>
<line x1="722.3" y1="501.1" x2="722.3" y2="731.1" stroke="#0b1f5e" stroke-width="3.0"/><polygon fill="#0b1f5e" points="722.3,494.1 718.2,502.1 726.4,502.1"/><polygon fill="#0b1f5e" points="722.3,738.1 718.2,730.1 726.4,730.1"/>
<text transform="translate(700.0,621.0) rotate(-90)" x="0" y="0" font-size="14.5" font-weight="bold" fill="#0b1f5e" text-anchor="middle" textLength="63" lengthAdjust="spacingAndGlyphs">15 Meter</text>
<line x1="87.5" y1="846.8" x2="559.6" y2="846.8" stroke="#0b1f5e" stroke-width="3.0"/><polygon fill="#0b1f5e" points="80.5,846.8 88.5,842.7 88.5,850.9"/><polygon fill="#0b1f5e" points="566.6,846.8 558.6,842.7 558.6,850.9"/>
<line x1="63.4" y1="873.8" x2="63.4" y2="1110.6" stroke="#0b1f5e" stroke-width="3.0"/><polygon fill="#0b1f5e" points="63.4,866.8 59.3,874.8 67.5,874.8"/><polygon fill="#0b1f5e" points="63.4,1117.6 59.3,1109.6 67.5,1109.6"/>
<text transform="translate(48.0,993.0) rotate(-90)" x="0" y="0" font-size="14.5" font-weight="bold" fill="#0b1f5e" text-anchor="middle" textLength="63" lengthAdjust="spacingAndGlyphs">30 Meter</text>
<line x1="739.0" y1="846.8" x2="1211.1" y2="846.8" stroke="#0b1f5e" stroke-width="3.0"/><polygon fill="#0b1f5e" points="732.0,846.8 740.0,842.7 740.0,850.9"/><polygon fill="#0b1f5e" points="1218.1,846.8 1210.1,842.7 1210.1,850.9"/>
<line x1="720.5" y1="873.8" x2="720.5" y2="1110.6" stroke="#0b1f5e" stroke-width="3.0"/><polygon fill="#0b1f5e" points="720.5,866.8 716.4,874.8 724.6,874.8"/><polygon fill="#0b1f5e" points="720.5,1117.6 716.4,1109.6 724.6,1109.6"/>
<text transform="translate(700.0,993.0) rotate(-90)" x="0" y="0" font-size="14.5" font-weight="bold" fill="#0b1f5e" text-anchor="middle" textLength="63" lengthAdjust="spacingAndGlyphs">30 Meter</text>
<text transform="translate(48.0,248.5) rotate(-90)" x="0" y="0" font-size="14.5" font-weight="bold" fill="#0b1f5e" text-anchor="middle" textLength="63" lengthAdjust="spacingAndGlyphs">15 Meter</text>
<rect x="57" y="385" width="4" height="4.5" fill="#86e23c"/><rect x="1238" y="387.5" width="3.6" height="4.5" fill="#4fdc4f"/><rect x="57" y="755" width="1.6" height="7" fill="#c9b821"/>
</svg>
</body></html>
